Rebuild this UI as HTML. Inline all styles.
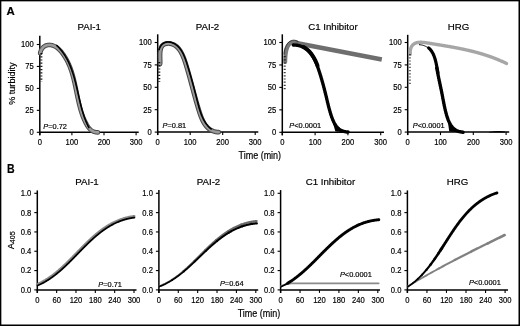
<!DOCTYPE html>
<html><head><meta charset="utf-8"><style>
html,body{margin:0;padding:0;background:#fff;}
#f{position:relative;width:520px;height:326px;overflow:hidden;background:#fff;}
svg{position:absolute;left:0;top:0;will-change:transform;filter:blur(0.3px);}
text{font-family:"Liberation Sans", sans-serif;stroke:#000;stroke-width:0.18px;}
</style></head><body><div id="f">
<svg width="520" height="326" viewBox="0 0 520 326" font-family='"Liberation Sans", sans-serif'>
<rect x="0" y="0" width="520" height="326" fill="#fff"/>
<line x1="39.80" y1="35.70" x2="39.80" y2="135.30" stroke="#000" stroke-width="1.5"/>
<line x1="39.15" y1="132.30" x2="138.70" y2="132.30" stroke="#000" stroke-width="1.5"/>
<line x1="36.80" y1="132.30" x2="39.80" y2="132.30" stroke="#000" stroke-width="1.1"/>
<text transform="translate(33.80,135.20) scale(0.93,1)" font-size="8.2" text-anchor="end" font-weight="normal" font-style="normal" fill="#000" >0</text>
<line x1="36.80" y1="110.35" x2="39.80" y2="110.35" stroke="#000" stroke-width="1.1"/>
<text transform="translate(33.80,113.25) scale(0.93,1)" font-size="8.2" text-anchor="end" font-weight="normal" font-style="normal" fill="#000" >25</text>
<line x1="36.80" y1="88.40" x2="39.80" y2="88.40" stroke="#000" stroke-width="1.1"/>
<text transform="translate(33.80,91.30) scale(0.93,1)" font-size="8.2" text-anchor="end" font-weight="normal" font-style="normal" fill="#000" >50</text>
<line x1="36.80" y1="66.45" x2="39.80" y2="66.45" stroke="#000" stroke-width="1.1"/>
<text transform="translate(33.80,69.35) scale(0.93,1)" font-size="8.2" text-anchor="end" font-weight="normal" font-style="normal" fill="#000" >75</text>
<line x1="36.80" y1="44.50" x2="39.80" y2="44.50" stroke="#000" stroke-width="1.1"/>
<text transform="translate(33.80,47.40) scale(0.93,1)" font-size="8.2" text-anchor="end" font-weight="normal" font-style="normal" fill="#000" >100</text>
<line x1="39.80" y1="132.30" x2="39.80" y2="135.30" stroke="#000" stroke-width="1.1"/>
<text transform="translate(39.80,145.20) scale(0.93,1)" font-size="8.2" text-anchor="middle" font-weight="normal" font-style="normal" fill="#000" >0</text>
<line x1="71.90" y1="132.30" x2="71.90" y2="135.30" stroke="#000" stroke-width="1.1"/>
<text transform="translate(71.90,145.20) scale(0.93,1)" font-size="8.2" text-anchor="middle" font-weight="normal" font-style="normal" fill="#000" >100</text>
<line x1="104.00" y1="132.30" x2="104.00" y2="135.30" stroke="#000" stroke-width="1.1"/>
<text transform="translate(104.00,145.20) scale(0.93,1)" font-size="8.2" text-anchor="middle" font-weight="normal" font-style="normal" fill="#000" >200</text>
<line x1="136.10" y1="132.30" x2="136.10" y2="135.30" stroke="#000" stroke-width="1.1"/>
<text transform="translate(136.10,145.20) scale(0.93,1)" font-size="8.2" text-anchor="middle" font-weight="normal" font-style="normal" fill="#000" >300</text>
<text transform="translate(89.20,30.40) scale(1.0,1)" font-size="9.7" text-anchor="middle" font-weight="normal" font-style="normal" fill="#000" >PAI-1</text>
<line x1="157.70" y1="34.30" x2="157.70" y2="135.10" stroke="#000" stroke-width="1.5"/>
<line x1="157.05" y1="132.10" x2="258.30" y2="132.10" stroke="#000" stroke-width="1.5"/>
<line x1="154.70" y1="132.10" x2="157.70" y2="132.10" stroke="#000" stroke-width="1.1"/>
<text transform="translate(151.70,135.00) scale(0.93,1)" font-size="8.2" text-anchor="end" font-weight="normal" font-style="normal" fill="#000" >0</text>
<line x1="154.70" y1="109.70" x2="157.70" y2="109.70" stroke="#000" stroke-width="1.1"/>
<text transform="translate(151.70,112.60) scale(0.93,1)" font-size="8.2" text-anchor="end" font-weight="normal" font-style="normal" fill="#000" >25</text>
<line x1="154.70" y1="87.30" x2="157.70" y2="87.30" stroke="#000" stroke-width="1.1"/>
<text transform="translate(151.70,90.20) scale(0.93,1)" font-size="8.2" text-anchor="end" font-weight="normal" font-style="normal" fill="#000" >50</text>
<line x1="154.70" y1="64.90" x2="157.70" y2="64.90" stroke="#000" stroke-width="1.1"/>
<text transform="translate(151.70,67.80) scale(0.93,1)" font-size="8.2" text-anchor="end" font-weight="normal" font-style="normal" fill="#000" >75</text>
<line x1="154.70" y1="42.50" x2="157.70" y2="42.50" stroke="#000" stroke-width="1.1"/>
<text transform="translate(151.70,45.40) scale(0.93,1)" font-size="8.2" text-anchor="end" font-weight="normal" font-style="normal" fill="#000" >100</text>
<line x1="157.70" y1="132.10" x2="157.70" y2="135.10" stroke="#000" stroke-width="1.1"/>
<text transform="translate(157.70,145.20) scale(0.93,1)" font-size="8.2" text-anchor="middle" font-weight="normal" font-style="normal" fill="#000" >0</text>
<line x1="190.20" y1="132.10" x2="190.20" y2="135.10" stroke="#000" stroke-width="1.1"/>
<text transform="translate(190.20,145.20) scale(0.93,1)" font-size="8.2" text-anchor="middle" font-weight="normal" font-style="normal" fill="#000" >100</text>
<line x1="222.70" y1="132.10" x2="222.70" y2="135.10" stroke="#000" stroke-width="1.1"/>
<text transform="translate(222.70,145.20) scale(0.93,1)" font-size="8.2" text-anchor="middle" font-weight="normal" font-style="normal" fill="#000" >200</text>
<line x1="255.20" y1="132.10" x2="255.20" y2="135.10" stroke="#000" stroke-width="1.1"/>
<text transform="translate(255.20,145.20) scale(0.93,1)" font-size="8.2" text-anchor="middle" font-weight="normal" font-style="normal" fill="#000" >300</text>
<text transform="translate(207.50,30.10) scale(1.0,1)" font-size="9.7" text-anchor="middle" font-weight="normal" font-style="normal" fill="#000" >PAI-2</text>
<line x1="282.30" y1="34.30" x2="282.30" y2="135.30" stroke="#000" stroke-width="1.5"/>
<line x1="281.65" y1="132.30" x2="384.00" y2="132.30" stroke="#000" stroke-width="1.5"/>
<line x1="279.30" y1="132.30" x2="282.30" y2="132.30" stroke="#000" stroke-width="1.1"/>
<text transform="translate(276.30,135.20) scale(0.93,1)" font-size="8.2" text-anchor="end" font-weight="normal" font-style="normal" fill="#000" >0</text>
<line x1="279.30" y1="109.85" x2="282.30" y2="109.85" stroke="#000" stroke-width="1.1"/>
<text transform="translate(276.30,112.75) scale(0.93,1)" font-size="8.2" text-anchor="end" font-weight="normal" font-style="normal" fill="#000" >25</text>
<line x1="279.30" y1="87.40" x2="282.30" y2="87.40" stroke="#000" stroke-width="1.1"/>
<text transform="translate(276.30,90.30) scale(0.93,1)" font-size="8.2" text-anchor="end" font-weight="normal" font-style="normal" fill="#000" >50</text>
<line x1="279.30" y1="64.95" x2="282.30" y2="64.95" stroke="#000" stroke-width="1.1"/>
<text transform="translate(276.30,67.85) scale(0.93,1)" font-size="8.2" text-anchor="end" font-weight="normal" font-style="normal" fill="#000" >75</text>
<line x1="279.30" y1="42.50" x2="282.30" y2="42.50" stroke="#000" stroke-width="1.1"/>
<text transform="translate(276.30,45.40) scale(0.93,1)" font-size="8.2" text-anchor="end" font-weight="normal" font-style="normal" fill="#000" >100</text>
<line x1="282.30" y1="132.30" x2="282.30" y2="135.30" stroke="#000" stroke-width="1.1"/>
<text transform="translate(282.30,145.20) scale(0.93,1)" font-size="8.2" text-anchor="middle" font-weight="normal" font-style="normal" fill="#000" >0</text>
<line x1="315.10" y1="132.30" x2="315.10" y2="135.30" stroke="#000" stroke-width="1.1"/>
<text transform="translate(315.10,145.20) scale(0.93,1)" font-size="8.2" text-anchor="middle" font-weight="normal" font-style="normal" fill="#000" >100</text>
<line x1="347.90" y1="132.30" x2="347.90" y2="135.30" stroke="#000" stroke-width="1.1"/>
<text transform="translate(347.90,145.20) scale(0.93,1)" font-size="8.2" text-anchor="middle" font-weight="normal" font-style="normal" fill="#000" >200</text>
<line x1="380.70" y1="132.30" x2="380.70" y2="135.30" stroke="#000" stroke-width="1.1"/>
<text transform="translate(380.70,145.20) scale(0.93,1)" font-size="8.2" text-anchor="middle" font-weight="normal" font-style="normal" fill="#000" >300</text>
<text transform="translate(332.90,30.20) scale(1.0,1)" font-size="9.7" text-anchor="middle" font-weight="normal" font-style="normal" fill="#000" >C1 Inhibitor</text>
<line x1="407.70" y1="34.80" x2="407.70" y2="135.10" stroke="#000" stroke-width="1.5"/>
<line x1="407.05" y1="132.10" x2="509.20" y2="132.10" stroke="#000" stroke-width="1.5"/>
<line x1="404.70" y1="132.10" x2="407.70" y2="132.10" stroke="#000" stroke-width="1.1"/>
<text transform="translate(401.70,135.00) scale(0.93,1)" font-size="8.2" text-anchor="end" font-weight="normal" font-style="normal" fill="#000" >0</text>
<line x1="404.70" y1="109.70" x2="407.70" y2="109.70" stroke="#000" stroke-width="1.1"/>
<text transform="translate(401.70,112.60) scale(0.93,1)" font-size="8.2" text-anchor="end" font-weight="normal" font-style="normal" fill="#000" >25</text>
<line x1="404.70" y1="87.30" x2="407.70" y2="87.30" stroke="#000" stroke-width="1.1"/>
<text transform="translate(401.70,90.20) scale(0.93,1)" font-size="8.2" text-anchor="end" font-weight="normal" font-style="normal" fill="#000" >50</text>
<line x1="404.70" y1="64.90" x2="407.70" y2="64.90" stroke="#000" stroke-width="1.1"/>
<text transform="translate(401.70,67.80) scale(0.93,1)" font-size="8.2" text-anchor="end" font-weight="normal" font-style="normal" fill="#000" >75</text>
<line x1="404.70" y1="42.50" x2="407.70" y2="42.50" stroke="#000" stroke-width="1.1"/>
<text transform="translate(401.70,45.40) scale(0.93,1)" font-size="8.2" text-anchor="end" font-weight="normal" font-style="normal" fill="#000" >100</text>
<line x1="407.70" y1="132.10" x2="407.70" y2="135.10" stroke="#000" stroke-width="1.1"/>
<text transform="translate(407.70,145.20) scale(0.93,1)" font-size="8.2" text-anchor="middle" font-weight="normal" font-style="normal" fill="#000" >0</text>
<line x1="440.50" y1="132.10" x2="440.50" y2="135.10" stroke="#000" stroke-width="1.1"/>
<text transform="translate(440.50,145.20) scale(0.93,1)" font-size="8.2" text-anchor="middle" font-weight="normal" font-style="normal" fill="#000" >100</text>
<line x1="473.30" y1="132.10" x2="473.30" y2="135.10" stroke="#000" stroke-width="1.1"/>
<text transform="translate(473.30,145.20) scale(0.93,1)" font-size="8.2" text-anchor="middle" font-weight="normal" font-style="normal" fill="#000" >200</text>
<line x1="506.10" y1="132.10" x2="506.10" y2="135.10" stroke="#000" stroke-width="1.1"/>
<text transform="translate(506.10,145.20) scale(0.93,1)" font-size="8.2" text-anchor="middle" font-weight="normal" font-style="normal" fill="#000" >300</text>
<text transform="translate(458.60,30.00) scale(1.0,1)" font-size="9.7" text-anchor="middle" font-weight="normal" font-style="normal" fill="#000" >HRG</text>
<line x1="37.30" y1="190.40" x2="37.30" y2="292.90" stroke="#000" stroke-width="1.5"/>
<line x1="36.65" y1="289.90" x2="136.50" y2="289.90" stroke="#000" stroke-width="1.5"/>
<line x1="34.30" y1="289.90" x2="37.30" y2="289.90" stroke="#000" stroke-width="1.1"/>
<text transform="translate(31.30,292.80) scale(0.93,1)" font-size="8.2" text-anchor="end" font-weight="normal" font-style="normal" fill="#000" >0.0</text>
<line x1="34.30" y1="270.58" x2="37.30" y2="270.58" stroke="#000" stroke-width="1.1"/>
<text transform="translate(31.30,273.48) scale(0.93,1)" font-size="8.2" text-anchor="end" font-weight="normal" font-style="normal" fill="#000" >0.2</text>
<line x1="34.30" y1="251.26" x2="37.30" y2="251.26" stroke="#000" stroke-width="1.1"/>
<text transform="translate(31.30,254.16) scale(0.93,1)" font-size="8.2" text-anchor="end" font-weight="normal" font-style="normal" fill="#000" >0.4</text>
<line x1="34.30" y1="231.94" x2="37.30" y2="231.94" stroke="#000" stroke-width="1.1"/>
<text transform="translate(31.30,234.84) scale(0.93,1)" font-size="8.2" text-anchor="end" font-weight="normal" font-style="normal" fill="#000" >0.6</text>
<line x1="34.30" y1="212.62" x2="37.30" y2="212.62" stroke="#000" stroke-width="1.1"/>
<text transform="translate(31.30,215.52) scale(0.93,1)" font-size="8.2" text-anchor="end" font-weight="normal" font-style="normal" fill="#000" >0.8</text>
<line x1="34.30" y1="193.30" x2="37.30" y2="193.30" stroke="#000" stroke-width="1.1"/>
<text transform="translate(31.30,196.20) scale(0.93,1)" font-size="8.2" text-anchor="end" font-weight="normal" font-style="normal" fill="#000" >1.0</text>
<line x1="37.30" y1="289.90" x2="37.30" y2="292.90" stroke="#000" stroke-width="1.1"/>
<text transform="translate(37.30,302.70) scale(0.93,1)" font-size="8.2" text-anchor="middle" font-weight="normal" font-style="normal" fill="#000" >0</text>
<line x1="56.64" y1="289.90" x2="56.64" y2="292.90" stroke="#000" stroke-width="1.1"/>
<text transform="translate(56.64,302.70) scale(0.93,1)" font-size="8.2" text-anchor="middle" font-weight="normal" font-style="normal" fill="#000" >60</text>
<line x1="75.98" y1="289.90" x2="75.98" y2="292.90" stroke="#000" stroke-width="1.1"/>
<text transform="translate(75.98,302.70) scale(0.93,1)" font-size="8.2" text-anchor="middle" font-weight="normal" font-style="normal" fill="#000" >120</text>
<line x1="95.32" y1="289.90" x2="95.32" y2="292.90" stroke="#000" stroke-width="1.1"/>
<text transform="translate(95.32,302.70) scale(0.93,1)" font-size="8.2" text-anchor="middle" font-weight="normal" font-style="normal" fill="#000" >180</text>
<line x1="114.66" y1="289.90" x2="114.66" y2="292.90" stroke="#000" stroke-width="1.1"/>
<text transform="translate(114.66,302.70) scale(0.93,1)" font-size="8.2" text-anchor="middle" font-weight="normal" font-style="normal" fill="#000" >240</text>
<line x1="134.00" y1="289.90" x2="134.00" y2="292.90" stroke="#000" stroke-width="1.1"/>
<text transform="translate(134.00,302.70) scale(0.93,1)" font-size="8.2" text-anchor="middle" font-weight="normal" font-style="normal" fill="#000" >300</text>
<text transform="translate(87.00,185.00) scale(1.0,1)" font-size="9.7" text-anchor="middle" font-weight="normal" font-style="normal" fill="#000" >PAI-1</text>
<line x1="158.90" y1="189.90" x2="158.90" y2="292.90" stroke="#000" stroke-width="1.5"/>
<line x1="158.25" y1="289.90" x2="258.20" y2="289.90" stroke="#000" stroke-width="1.5"/>
<line x1="155.90" y1="289.90" x2="158.90" y2="289.90" stroke="#000" stroke-width="1.1"/>
<text transform="translate(152.90,292.80) scale(0.93,1)" font-size="8.2" text-anchor="end" font-weight="normal" font-style="normal" fill="#000" >0.0</text>
<line x1="155.90" y1="270.58" x2="158.90" y2="270.58" stroke="#000" stroke-width="1.1"/>
<text transform="translate(152.90,273.48) scale(0.93,1)" font-size="8.2" text-anchor="end" font-weight="normal" font-style="normal" fill="#000" >0.2</text>
<line x1="155.90" y1="251.26" x2="158.90" y2="251.26" stroke="#000" stroke-width="1.1"/>
<text transform="translate(152.90,254.16) scale(0.93,1)" font-size="8.2" text-anchor="end" font-weight="normal" font-style="normal" fill="#000" >0.4</text>
<line x1="155.90" y1="231.94" x2="158.90" y2="231.94" stroke="#000" stroke-width="1.1"/>
<text transform="translate(152.90,234.84) scale(0.93,1)" font-size="8.2" text-anchor="end" font-weight="normal" font-style="normal" fill="#000" >0.6</text>
<line x1="155.90" y1="212.62" x2="158.90" y2="212.62" stroke="#000" stroke-width="1.1"/>
<text transform="translate(152.90,215.52) scale(0.93,1)" font-size="8.2" text-anchor="end" font-weight="normal" font-style="normal" fill="#000" >0.8</text>
<line x1="155.90" y1="193.30" x2="158.90" y2="193.30" stroke="#000" stroke-width="1.1"/>
<text transform="translate(152.90,196.20) scale(0.93,1)" font-size="8.2" text-anchor="end" font-weight="normal" font-style="normal" fill="#000" >1.0</text>
<line x1="158.90" y1="289.90" x2="158.90" y2="292.90" stroke="#000" stroke-width="1.1"/>
<text transform="translate(158.90,302.70) scale(0.93,1)" font-size="8.2" text-anchor="middle" font-weight="normal" font-style="normal" fill="#000" >0</text>
<line x1="178.28" y1="289.90" x2="178.28" y2="292.90" stroke="#000" stroke-width="1.1"/>
<text transform="translate(178.28,302.70) scale(0.93,1)" font-size="8.2" text-anchor="middle" font-weight="normal" font-style="normal" fill="#000" >60</text>
<line x1="197.66" y1="289.90" x2="197.66" y2="292.90" stroke="#000" stroke-width="1.1"/>
<text transform="translate(197.66,302.70) scale(0.93,1)" font-size="8.2" text-anchor="middle" font-weight="normal" font-style="normal" fill="#000" >120</text>
<line x1="217.04" y1="289.90" x2="217.04" y2="292.90" stroke="#000" stroke-width="1.1"/>
<text transform="translate(217.04,302.70) scale(0.93,1)" font-size="8.2" text-anchor="middle" font-weight="normal" font-style="normal" fill="#000" >180</text>
<line x1="236.42" y1="289.90" x2="236.42" y2="292.90" stroke="#000" stroke-width="1.1"/>
<text transform="translate(236.42,302.70) scale(0.93,1)" font-size="8.2" text-anchor="middle" font-weight="normal" font-style="normal" fill="#000" >240</text>
<line x1="255.80" y1="289.90" x2="255.80" y2="292.90" stroke="#000" stroke-width="1.1"/>
<text transform="translate(255.80,302.70) scale(0.93,1)" font-size="8.2" text-anchor="middle" font-weight="normal" font-style="normal" fill="#000" >300</text>
<text transform="translate(208.50,185.10) scale(1.0,1)" font-size="9.7" text-anchor="middle" font-weight="normal" font-style="normal" fill="#000" >PAI-2</text>
<line x1="280.60" y1="190.10" x2="280.60" y2="292.90" stroke="#000" stroke-width="1.5"/>
<line x1="279.95" y1="289.90" x2="380.00" y2="289.90" stroke="#000" stroke-width="1.5"/>
<line x1="277.60" y1="289.90" x2="280.60" y2="289.90" stroke="#000" stroke-width="1.1"/>
<text transform="translate(274.60,292.80) scale(0.93,1)" font-size="8.2" text-anchor="end" font-weight="normal" font-style="normal" fill="#000" >0.0</text>
<line x1="277.60" y1="270.58" x2="280.60" y2="270.58" stroke="#000" stroke-width="1.1"/>
<text transform="translate(274.60,273.48) scale(0.93,1)" font-size="8.2" text-anchor="end" font-weight="normal" font-style="normal" fill="#000" >0.2</text>
<line x1="277.60" y1="251.26" x2="280.60" y2="251.26" stroke="#000" stroke-width="1.1"/>
<text transform="translate(274.60,254.16) scale(0.93,1)" font-size="8.2" text-anchor="end" font-weight="normal" font-style="normal" fill="#000" >0.4</text>
<line x1="277.60" y1="231.94" x2="280.60" y2="231.94" stroke="#000" stroke-width="1.1"/>
<text transform="translate(274.60,234.84) scale(0.93,1)" font-size="8.2" text-anchor="end" font-weight="normal" font-style="normal" fill="#000" >0.6</text>
<line x1="277.60" y1="212.62" x2="280.60" y2="212.62" stroke="#000" stroke-width="1.1"/>
<text transform="translate(274.60,215.52) scale(0.93,1)" font-size="8.2" text-anchor="end" font-weight="normal" font-style="normal" fill="#000" >0.8</text>
<line x1="277.60" y1="193.30" x2="280.60" y2="193.30" stroke="#000" stroke-width="1.1"/>
<text transform="translate(274.60,196.20) scale(0.93,1)" font-size="8.2" text-anchor="end" font-weight="normal" font-style="normal" fill="#000" >1.0</text>
<line x1="280.60" y1="289.90" x2="280.60" y2="292.90" stroke="#000" stroke-width="1.1"/>
<text transform="translate(280.60,302.70) scale(0.93,1)" font-size="8.2" text-anchor="middle" font-weight="normal" font-style="normal" fill="#000" >0</text>
<line x1="300.04" y1="289.90" x2="300.04" y2="292.90" stroke="#000" stroke-width="1.1"/>
<text transform="translate(300.04,302.70) scale(0.93,1)" font-size="8.2" text-anchor="middle" font-weight="normal" font-style="normal" fill="#000" >60</text>
<line x1="319.48" y1="289.90" x2="319.48" y2="292.90" stroke="#000" stroke-width="1.1"/>
<text transform="translate(319.48,302.70) scale(0.93,1)" font-size="8.2" text-anchor="middle" font-weight="normal" font-style="normal" fill="#000" >120</text>
<line x1="338.92" y1="289.90" x2="338.92" y2="292.90" stroke="#000" stroke-width="1.1"/>
<text transform="translate(338.92,302.70) scale(0.93,1)" font-size="8.2" text-anchor="middle" font-weight="normal" font-style="normal" fill="#000" >180</text>
<line x1="358.36" y1="289.90" x2="358.36" y2="292.90" stroke="#000" stroke-width="1.1"/>
<text transform="translate(358.36,302.70) scale(0.93,1)" font-size="8.2" text-anchor="middle" font-weight="normal" font-style="normal" fill="#000" >240</text>
<line x1="377.80" y1="289.90" x2="377.80" y2="292.90" stroke="#000" stroke-width="1.1"/>
<text transform="translate(377.80,302.70) scale(0.93,1)" font-size="8.2" text-anchor="middle" font-weight="normal" font-style="normal" fill="#000" >300</text>
<text transform="translate(330.40,185.00) scale(1.0,1)" font-size="9.7" text-anchor="middle" font-weight="normal" font-style="normal" fill="#000" >C1 Inhibitor</text>
<line x1="407.40" y1="190.40" x2="407.40" y2="292.90" stroke="#000" stroke-width="1.5"/>
<line x1="406.75" y1="289.90" x2="508.00" y2="289.90" stroke="#000" stroke-width="1.5"/>
<line x1="404.40" y1="289.90" x2="407.40" y2="289.90" stroke="#000" stroke-width="1.1"/>
<text transform="translate(401.40,292.80) scale(0.93,1)" font-size="8.2" text-anchor="end" font-weight="normal" font-style="normal" fill="#000" >0.0</text>
<line x1="404.40" y1="270.58" x2="407.40" y2="270.58" stroke="#000" stroke-width="1.1"/>
<text transform="translate(401.40,273.48) scale(0.93,1)" font-size="8.2" text-anchor="end" font-weight="normal" font-style="normal" fill="#000" >0.2</text>
<line x1="404.40" y1="251.26" x2="407.40" y2="251.26" stroke="#000" stroke-width="1.1"/>
<text transform="translate(401.40,254.16) scale(0.93,1)" font-size="8.2" text-anchor="end" font-weight="normal" font-style="normal" fill="#000" >0.4</text>
<line x1="404.40" y1="231.94" x2="407.40" y2="231.94" stroke="#000" stroke-width="1.1"/>
<text transform="translate(401.40,234.84) scale(0.93,1)" font-size="8.2" text-anchor="end" font-weight="normal" font-style="normal" fill="#000" >0.6</text>
<line x1="404.40" y1="212.62" x2="407.40" y2="212.62" stroke="#000" stroke-width="1.1"/>
<text transform="translate(401.40,215.52) scale(0.93,1)" font-size="8.2" text-anchor="end" font-weight="normal" font-style="normal" fill="#000" >0.8</text>
<line x1="404.40" y1="193.30" x2="407.40" y2="193.30" stroke="#000" stroke-width="1.1"/>
<text transform="translate(401.40,196.20) scale(0.93,1)" font-size="8.2" text-anchor="end" font-weight="normal" font-style="normal" fill="#000" >1.0</text>
<line x1="407.40" y1="289.90" x2="407.40" y2="292.90" stroke="#000" stroke-width="1.1"/>
<text transform="translate(407.40,302.70) scale(0.93,1)" font-size="8.2" text-anchor="middle" font-weight="normal" font-style="normal" fill="#000" >0</text>
<line x1="426.94" y1="289.90" x2="426.94" y2="292.90" stroke="#000" stroke-width="1.1"/>
<text transform="translate(426.94,302.70) scale(0.93,1)" font-size="8.2" text-anchor="middle" font-weight="normal" font-style="normal" fill="#000" >60</text>
<line x1="446.48" y1="289.90" x2="446.48" y2="292.90" stroke="#000" stroke-width="1.1"/>
<text transform="translate(446.48,302.70) scale(0.93,1)" font-size="8.2" text-anchor="middle" font-weight="normal" font-style="normal" fill="#000" >120</text>
<line x1="466.02" y1="289.90" x2="466.02" y2="292.90" stroke="#000" stroke-width="1.1"/>
<text transform="translate(466.02,302.70) scale(0.93,1)" font-size="8.2" text-anchor="middle" font-weight="normal" font-style="normal" fill="#000" >180</text>
<line x1="485.56" y1="289.90" x2="485.56" y2="292.90" stroke="#000" stroke-width="1.1"/>
<text transform="translate(485.56,302.70) scale(0.93,1)" font-size="8.2" text-anchor="middle" font-weight="normal" font-style="normal" fill="#000" >240</text>
<line x1="505.10" y1="289.90" x2="505.10" y2="292.90" stroke="#000" stroke-width="1.1"/>
<text transform="translate(505.10,302.70) scale(0.93,1)" font-size="8.2" text-anchor="middle" font-weight="normal" font-style="normal" fill="#000" >300</text>
<text transform="translate(457.50,184.80) scale(1.0,1)" font-size="9.7" text-anchor="middle" font-weight="normal" font-style="normal" fill="#000" >HRG</text>
<text transform="translate(6.50,15.40) scale(1.0,1)" font-size="11.4" text-anchor="start" font-weight="bold" font-style="normal" fill="#000" >A</text>
<text transform="translate(7.00,172.80) scale(0.86,1)" font-size="12.3" text-anchor="start" font-weight="bold" font-style="normal" fill="#000" >B</text>
<text transform="translate(259.80,158.60) scale(0.9,1)" font-size="10.0" text-anchor="middle" font-weight="normal" font-style="normal" fill="#000" >Time (min)</text>
<text transform="translate(259.00,317.20) scale(0.9,1)" font-size="10.0" text-anchor="middle" font-weight="normal" font-style="normal" fill="#000" >Time (min)</text>
<text transform="translate(15.0,83.6) rotate(-90) scale(0.93,1)" font-size="9.8" text-anchor="middle">% turbidity</text>
<text transform="translate(13.7,249.3) rotate(-90)" font-size="9.2">A<tspan font-size="7.2" dy="1.4">405</tspan></text>
<text x="43.30" y="129.20" font-size="7.4"><tspan font-style="italic">P</tspan>=0.72</text>
<text x="162.60" y="127.80" font-size="7.4"><tspan font-style="italic">P</tspan>=0.81</text>
<text x="289.30" y="128.00" font-size="7.4"><tspan font-style="italic">P</tspan>&lt;0.0001</text>
<text x="412.80" y="127.80" font-size="7.4"><tspan font-style="italic">P</tspan>&lt;0.0001</text>
<text x="98.30" y="286.50" font-size="7.4"><tspan font-style="italic">P</tspan>=0.71</text>
<text x="219.90" y="286.40" font-size="7.4"><tspan font-style="italic">P</tspan>=0.64</text>
<text x="339.90" y="276.90" font-size="7.4"><tspan font-style="italic">P</tspan>&lt;0.0001</text>
<text x="468.90" y="284.90" font-size="7.4"><tspan font-style="italic">P</tspan>&lt;0.0001</text>
<path d="M40.09,53.26 L40.29,52.47 L40.52,51.72 L40.77,51.01 L41.06,50.35 L41.37,49.72 L41.70,49.14 L42.06,48.60 L42.44,48.11 L42.84,47.65 L43.27,47.22 L43.70,46.84 L44.16,46.49 L44.63,46.18 L45.12,45.91 L45.61,45.67 L46.12,45.47 L46.64,45.29 L47.17,45.16 L47.70,45.05 L48.24,44.97 L48.79,44.93 L49.34,44.92 L49.89,44.93 L50.44,44.98 L50.98,45.05 L51.53,45.15 L52.07,45.27 L52.61,45.42 L53.14,45.60 L53.66,45.80 L54.18,46.02 L54.69,46.27 L55.19,46.54 L55.69,46.83 L56.18,47.14 L56.66,47.46 L57.13,47.81 L57.60,48.17 L58.06,48.55 L58.51,48.95 L58.96,49.36 L59.40,49.78 L59.83,50.22 L60.25,50.67 L60.67,51.13 L61.08,51.60 L61.48,52.08 L61.88,52.57 L62.26,53.07 L62.64,53.57 L63.02,54.08 L63.38,54.60 L63.74,55.12 L64.10,55.64 L64.44,56.17 L64.78,56.70 L65.11,57.23 L65.43,57.76 L65.74,58.29 L66.05,58.82 L66.35,59.36 L66.65,59.89 L66.94,60.43 L67.22,60.97 L67.49,61.51 L67.76,62.05 L68.02,62.59 L68.28,63.13 L68.53,63.68 L68.78,64.22 L69.02,64.77 L69.26,65.32 L69.49,65.87 L69.71,66.42 L69.93,66.97 L70.15,67.53 L70.36,68.08 L70.56,68.64 L70.77,69.20 L70.96,69.76 L71.16,70.32 L71.35,70.88 L71.53,71.45 L71.71,72.02 L71.89,72.59 L72.07,73.16 L72.24,73.73 L72.41,74.30 L72.57,74.88 L72.74,75.46 L72.90,76.03 L73.05,76.61 L73.21,77.20 L73.36,77.78 L73.51,78.37 L73.66,78.95 L73.80,79.54 L73.95,80.13 L74.09,80.72 L74.23,81.31 L74.36,81.91 L74.50,82.50 L74.64,83.10 L74.77,83.69 L74.90,84.29 L75.03,84.89 L75.16,85.49 L75.29,86.09 L75.42,86.69 L75.54,87.29 L75.67,87.89 L75.79,88.49 L75.92,89.09 L76.04,89.70 L76.17,90.30 L76.29,90.90 L76.41,91.50 L76.54,92.11 L76.66,92.71 L76.78,93.31 L76.91,93.92 L77.03,94.52 L77.15,95.12 L77.28,95.73 L77.41,96.33 L77.53,96.93 L77.66,97.53 L77.79,98.13 L77.92,98.73 L78.05,99.33 L78.18,99.93 L78.31,100.53 L78.45,101.13 L78.58,101.72 L78.72,102.32 L78.86,102.92 L79.00,103.51 L79.14,104.10 L79.29,104.69 L79.44,105.28 L79.59,105.87 L79.74,106.46 L79.89,107.05 L80.05,107.63 L80.21,108.21 L80.37,108.80 L80.54,109.38 L80.71,109.95 L80.88,110.53 L81.05,111.11 L81.23,111.68 L81.41,112.25 L81.60,112.82 L81.78,113.38 L81.98,113.95 L82.17,114.51 L82.37,115.07 L82.57,115.63 L82.78,116.18 L82.99,116.74 L83.21,117.29 L83.43,117.84 L83.65,118.38 L83.88,118.92 L84.12,119.46 L84.35,120.00 L84.60,120.54 L84.85,121.07 L85.10,121.59 L85.36,122.12 L85.62,122.64 L85.89,123.16 L86.17,123.68 L86.45,124.19 L86.73,124.70 L87.03,125.20 L87.33,125.70 L87.64,126.19 L87.96,126.67 L88.29,127.14 L88.63,127.60 L88.98,128.05 L89.35,128.48 L89.74,128.90 L90.14,129.30 L90.55,129.68 L90.99,130.04 L91.44,130.39 L91.91,130.71 L92.40,131.00 L92.92,131.28 L93.46,131.52 L94.02,131.74 L94.60,131.93 L95.21,132.09 L95.85,132.22 L96.52,132.32 L97.21,132.38 L97.94,132.41" fill="none" stroke="#4a4a4a" stroke-width="4.6" stroke-linecap="round" stroke-linejoin="round" />
<path d="M40.09,53.26 L40.29,52.47 L40.52,51.72 L40.77,51.01 L41.06,50.35 L41.37,49.72 L41.70,49.14 L42.06,48.60 L42.44,48.11 L42.84,47.65 L43.27,47.22 L43.70,46.84 L44.16,46.49 L44.63,46.18 L45.12,45.91 L45.61,45.67 L46.12,45.47 L46.64,45.29 L47.17,45.16 L47.70,45.05 L48.24,44.97 L48.79,44.93 L49.34,44.92 L49.89,44.93 L50.44,44.98 L50.98,45.05 L51.53,45.15 L52.07,45.27 L52.61,45.42 L53.14,45.60 L53.66,45.80 L54.18,46.02 L54.69,46.27 L55.19,46.54 L55.69,46.83 L56.18,47.14 L56.66,47.46 L57.13,47.81 L57.60,48.17 L58.06,48.55 L58.51,48.95 L58.96,49.36 L59.40,49.78 L59.83,50.22 L60.25,50.67 L60.67,51.13 L61.08,51.60 L61.48,52.08 L61.88,52.57 L62.26,53.07 L62.64,53.57 L63.02,54.08 L63.38,54.60 L63.74,55.12 L64.10,55.64 L64.44,56.17 L64.78,56.70 L65.11,57.23 L65.43,57.76 L65.74,58.29 L66.05,58.82 L66.35,59.36 L66.65,59.89 L66.94,60.43 L67.22,60.97 L67.49,61.51 L67.76,62.05 L68.02,62.59 L68.28,63.13 L68.53,63.68 L68.78,64.22 L69.02,64.77 L69.26,65.32 L69.49,65.87 L69.71,66.42 L69.93,66.97 L70.15,67.53 L70.36,68.08 L70.56,68.64 L70.77,69.20 L70.96,69.76 L71.16,70.32 L71.35,70.88 L71.53,71.45 L71.71,72.02 L71.89,72.59 L72.07,73.16 L72.24,73.73 L72.41,74.30 L72.57,74.88 L72.74,75.46 L72.90,76.03 L73.05,76.61 L73.21,77.20 L73.36,77.78 L73.51,78.37 L73.66,78.95 L73.80,79.54 L73.95,80.13 L74.09,80.72 L74.23,81.31 L74.36,81.91 L74.50,82.50 L74.64,83.10 L74.77,83.69 L74.90,84.29 L75.03,84.89 L75.16,85.49 L75.29,86.09 L75.42,86.69 L75.54,87.29 L75.67,87.89 L75.79,88.49 L75.92,89.09 L76.04,89.70 L76.17,90.30 L76.29,90.90 L76.41,91.50 L76.54,92.11 L76.66,92.71 L76.78,93.31 L76.91,93.92 L77.03,94.52 L77.15,95.12 L77.28,95.73 L77.41,96.33 L77.53,96.93 L77.66,97.53 L77.79,98.13 L77.92,98.73 L78.05,99.33 L78.18,99.93 L78.31,100.53 L78.45,101.13 L78.58,101.72 L78.72,102.32 L78.86,102.92 L79.00,103.51 L79.14,104.10 L79.29,104.69 L79.44,105.28 L79.59,105.87 L79.74,106.46 L79.89,107.05 L80.05,107.63 L80.21,108.21 L80.37,108.80 L80.54,109.38 L80.71,109.95 L80.88,110.53 L81.05,111.11 L81.23,111.68 L81.41,112.25 L81.60,112.82 L81.78,113.38 L81.98,113.95 L82.17,114.51 L82.37,115.07 L82.57,115.63 L82.78,116.18 L82.99,116.74 L83.21,117.29 L83.43,117.84 L83.65,118.38 L83.88,118.92 L84.12,119.46 L84.35,120.00 L84.60,120.54 L84.85,121.07 L85.10,121.59 L85.36,122.12 L85.62,122.64 L85.89,123.16 L86.17,123.68 L86.45,124.19 L86.73,124.70 L87.03,125.20 L87.33,125.70 L87.64,126.19 L87.96,126.67 L88.29,127.14 L88.63,127.60 L88.98,128.05 L89.35,128.48 L89.74,128.90 L90.14,129.30 L90.55,129.68 L90.99,130.04 L91.44,130.39 L91.91,130.71 L92.40,131.00 L92.92,131.28 L93.46,131.52 L94.02,131.74 L94.60,131.93 L95.21,132.09 L95.85,132.22 L96.52,132.32 L97.21,132.38 L97.94,132.41" fill="none" stroke="#9c9c9c" stroke-width="2.6" stroke-linecap="round" stroke-linejoin="round" />
<line x1="41.4" y1="53" x2="41.4" y2="82" stroke="#000" stroke-width="2.0" stroke-dasharray="1.2 2.0" stroke-opacity="0.9"/>
<path d="M56.90,45.57 L57.24,45.89 L57.57,46.23 L57.90,46.56 L58.22,46.90 L58.54,47.24 L58.86,47.58 L59.17,47.93 L59.48,48.27 L59.79,48.62 L60.09,48.97 L60.39,49.32 L60.68,49.67 L60.97,50.03 L61.26,50.38 L61.54,50.74 L61.82,51.10 L62.10,51.46 L62.37,51.83 L62.64,52.19 L62.91,52.56 L63.17,52.93 L63.43,53.30 L63.69,53.67 L63.94,54.04 L64.19,54.42 L64.44,54.79 L64.69,55.17 L64.93,55.55 L65.16,55.93 L65.40,56.31 L65.63,56.70 L65.86,57.08 L66.08,57.47 L66.31,57.86 L66.53,58.25 L66.74,58.64 L66.96,59.03 L67.17,59.42 L67.38,59.82 L67.59,60.21 L67.79,60.61 L67.99,61.01 L68.19,61.41 L68.38,61.81 L68.58,62.21 L68.77,62.62 L68.95,63.02 L69.14,63.43 L69.32,63.83 L69.50,64.24 L69.68,64.65 L69.86,65.06 L70.03,65.47 L70.20,65.88 L70.37,66.30 L70.54,66.71 L70.71,67.13 L70.87,67.54 L71.03,67.96 L71.19,68.38 L71.35,68.80 L71.50,69.21 L71.66,69.64 L71.81,70.06 L71.96,70.48 L72.10,70.90 L72.25,71.33 L72.39,71.75 L72.54,72.18 L72.68,72.60 L72.82,73.03 L72.95,73.46 L73.09,73.88 L73.22,74.31 L73.36,74.74 L73.49,75.17 L73.62,75.60 L73.75,76.04 L73.87,76.47 L74.00,76.90 L74.12,77.33 L74.25,77.77 L74.37,78.20 L74.49,78.64 L74.61,79.07 L74.73,79.51 L74.84,79.94 L74.96,80.38 L75.08,80.82 L75.19,81.25 L75.30,81.69 L75.41,82.13 L75.53,82.57 L75.64,83.01 L75.75,83.45 L75.85,83.89 L75.96,84.33 L76.07,84.77 L76.18,85.21 L76.28,85.65 L76.39,86.09 L76.49,86.53 L76.60,86.97 L76.70,87.41 L76.80,87.85 L76.90,88.30 L77.01,88.74 L77.11,89.18 L77.21,89.62 L77.31,90.06 L77.41,90.50 L77.51,90.95 L77.61,91.39 L77.71,91.83 L77.81,92.27 L77.91,92.72 L78.01,93.16 L78.11,93.60 L78.21,94.04 L78.31,94.48 L78.41,94.92 L78.51,95.37 L78.61,95.81 L78.71,96.25 L78.81,96.69 L78.91,97.13 L79.01,97.57 L79.11,98.01 L79.21,98.45 L79.31,98.89 L79.41,99.33 L79.51,99.77 L79.61,100.21 L79.72,100.65 L79.82,101.09 L79.92,101.52 L80.03,101.96 L80.13,102.40 L80.24,102.83 L80.34,103.27 L80.45,103.71 L80.56,104.14 L80.66,104.58 L80.77,105.01 L80.88,105.44 L80.99,105.88 L81.11,106.31 L81.22,106.74 L81.33,107.17 L81.44,107.60 L81.56,108.03 L81.68,108.46 L81.79,108.89 L81.91,109.32 L82.03,109.75 L82.15,110.17 L82.27,110.60 L82.40,111.02 L82.52,111.45 L82.65,111.87 L82.77,112.29 L82.90,112.72 L83.03,113.14 L83.16,113.56 L83.30,113.98 L83.43,114.40 L83.56,114.81 L83.70,115.23 L83.84,115.65 L83.98,116.06 L84.12,116.47 L84.27,116.89 L84.41,117.30 L84.56,117.71 L84.71,118.12 L84.86,118.53 L85.01,118.94 L85.16,119.34 L85.32,119.75 L85.48,120.15 L85.64,120.56 L85.80,120.96 L85.96,121.36 L86.13,121.76 L86.30,122.16 L86.47,122.55 L86.64,122.95 L86.82,123.34 L86.99,123.74 L87.17,124.13 L87.35,124.52 L87.54,124.91 L87.72,125.30 L87.91,125.69 L88.10,126.07 L88.29,126.45 L88.49,126.84 L88.69,127.22 L88.89,127.60" fill="none" stroke="#111" stroke-width="0.6" stroke-linecap="round" stroke-linejoin="round" />
<path d="M56.90,45.57 L57.24,45.89 L57.57,46.23 L57.90,46.56 L58.22,46.90 L58.54,47.24 L58.86,47.58 L59.17,47.93 L59.48,48.27 L59.79,48.62 L60.09,48.97 L60.39,49.32 L60.68,49.67 L60.97,50.03 L61.26,50.38 L61.54,50.74 L61.82,51.10 L62.10,51.46 L62.37,51.83 L62.64,52.19 L62.91,52.56 L63.17,52.93 L63.43,53.30 L63.69,53.67 L63.94,54.04 L64.19,54.42 L64.44,54.79 L64.69,55.17 L64.93,55.55 L65.16,55.93 L65.40,56.31 L65.63,56.70 L65.86,57.08 L66.08,57.47 L66.31,57.86 L66.53,58.25 L66.74,58.64 L66.96,59.03 L67.17,59.42 L67.38,59.82 L67.59,60.21 L67.79,60.61 L67.99,61.01 L68.19,61.41 L68.38,61.81 L68.58,62.21 L68.77,62.62 L68.95,63.02 L69.14,63.43 L69.32,63.83 L69.50,64.24 L69.68,64.65 L69.86,65.06 L70.03,65.47 L70.20,65.88 L70.37,66.30 L70.54,66.71 L70.71,67.13 L70.87,67.54 L71.03,67.96 L71.19,68.38 L71.35,68.80 L71.50,69.21 L71.66,69.64 L71.81,70.06 L71.96,70.48 L72.10,70.90 L72.25,71.33 L72.39,71.75 L72.54,72.18 L72.68,72.60 L72.82,73.03 L72.95,73.46 L73.09,73.88 L73.22,74.31 L73.36,74.74 L73.49,75.17 L73.62,75.60 L73.75,76.04 L73.87,76.47 L74.00,76.90 L74.12,77.33 L74.25,77.77 L74.37,78.20 L74.49,78.64 L74.61,79.07 L74.73,79.51 L74.84,79.94 L74.96,80.38 L75.08,80.82 L75.19,81.25 L75.30,81.69 L75.41,82.13 L75.53,82.57 L75.64,83.01 L75.75,83.45 L75.85,83.89 L75.96,84.33 L76.07,84.77 L76.18,85.21 L76.28,85.65 L76.39,86.09 L76.49,86.53 L76.60,86.97 L76.70,87.41 L76.80,87.85 L76.90,88.30 L77.01,88.74 L77.11,89.18 L77.21,89.62 L77.31,90.06 L77.41,90.50 L77.51,90.95 L77.61,91.39 L77.71,91.83 L77.81,92.27 L77.91,92.72 L78.01,93.16 L78.11,93.60 L78.21,94.04 L78.31,94.48 L78.41,94.92 L78.51,95.37 L78.61,95.81 L78.71,96.25 L78.81,96.69 L78.91,97.13 L79.01,97.57 L79.11,98.01 L79.21,98.45 L79.31,98.89 L79.41,99.33 L79.51,99.77 L79.61,100.21 L79.72,100.65 L79.82,101.09 L79.92,101.52 L80.03,101.96 L80.13,102.40 L80.24,102.83 L80.34,103.27 L80.45,103.71 L80.56,104.14 L80.66,104.58 L80.77,105.01 L80.88,105.44 L80.99,105.88 L81.11,106.31 L81.22,106.74 L81.33,107.17 L81.44,107.60 L81.56,108.03 L81.68,108.46 L81.79,108.89 L81.91,109.32 L82.03,109.75 L82.15,110.17 L82.27,110.60 L82.40,111.02 L82.52,111.45 L82.65,111.87 L82.77,112.29 L82.90,112.72 L83.03,113.14 L83.16,113.56 L83.30,113.98 L83.43,114.40 L83.56,114.81 L83.70,115.23 L83.84,115.65 L83.98,116.06 L84.12,116.47 L84.27,116.89 L84.41,117.30 L84.56,117.71 L84.71,118.12 L84.86,118.53 L85.01,118.94 L85.16,119.34 L85.32,119.75 L85.48,120.15 L85.64,120.56 L85.80,120.96 L85.96,121.36 L86.13,121.76 L86.30,122.16 L86.47,122.55 L86.64,122.95 L86.82,123.34 L86.99,123.74 L87.17,124.13 L87.35,124.52 L87.54,124.91 L87.72,125.30 L87.91,125.69 L88.10,126.07 L88.29,126.45 L88.49,126.84 L88.69,127.22 L88.89,127.60" fill="none" stroke="#000" stroke-width="1.6" stroke-linecap="round" stroke-linejoin="round" stroke-dasharray="0.9 0.8" stroke-linecap="butt"/>
<path d="M160.00,64.01 L160.05,63.56 L160.09,63.06 L160.11,62.51 L160.11,61.91 L160.11,61.28 L160.10,60.61 L160.08,59.92 L160.06,59.19 L160.03,58.44 L160.01,57.68 L160.00,56.90 L159.99,56.11 L159.99,55.31 L160.00,54.51 L160.02,53.70 L160.06,52.91 L160.13,52.12 L160.21,51.35 L160.32,50.59 L160.45,49.86 L160.61,49.14 L160.81,48.46 L161.04,47.81 L161.30,47.20 L161.61,46.63 L161.95,46.10 L162.35,45.62 L162.78,45.20 L163.26,44.82 L163.78,44.50 L164.33,44.22 L164.91,43.99 L165.52,43.80 L166.14,43.65 L166.78,43.55 L167.44,43.49 L168.09,43.46 L168.75,43.47 L169.41,43.52 L170.06,43.59 L170.69,43.70 L171.31,43.84 L171.92,44.00 L172.50,44.20 L173.07,44.42 L173.63,44.66 L174.17,44.93 L174.69,45.23 L175.20,45.55 L175.70,45.89 L176.18,46.26 L176.65,46.64 L177.10,47.05 L177.54,47.48 L177.97,47.93 L178.39,48.39 L178.79,48.88 L179.18,49.38 L179.56,49.90 L179.93,50.43 L180.29,50.98 L180.64,51.54 L180.98,52.12 L181.31,52.71 L181.63,53.31 L181.94,53.92 L182.25,54.54 L182.54,55.18 L182.83,55.82 L183.11,56.47 L183.38,57.13 L183.64,57.80 L183.90,58.47 L184.16,59.14 L184.40,59.83 L184.64,60.51 L184.88,61.20 L185.11,61.89 L185.34,62.58 L185.56,63.28 L185.78,63.97 L185.99,64.67 L186.20,65.36 L186.41,66.05 L186.62,66.74 L186.82,67.42 L187.03,68.11 L187.23,68.79 L187.42,69.46 L187.62,70.13 L187.81,70.81 L188.01,71.47 L188.20,72.14 L188.39,72.80 L188.58,73.46 L188.76,74.12 L188.95,74.78 L189.13,75.43 L189.31,76.08 L189.49,76.73 L189.67,77.38 L189.85,78.02 L190.03,78.67 L190.20,79.31 L190.38,79.95 L190.55,80.59 L190.73,81.23 L190.90,81.87 L191.07,82.50 L191.24,83.14 L191.42,83.77 L191.59,84.40 L191.76,85.04 L191.93,85.67 L192.10,86.30 L192.27,86.93 L192.43,87.56 L192.60,88.19 L192.77,88.82 L192.94,89.44 L193.11,90.07 L193.28,90.70 L193.45,91.33 L193.62,91.96 L193.79,92.59 L193.96,93.22 L194.13,93.85 L194.31,94.48 L194.48,95.11 L194.65,95.74 L194.83,96.37 L195.00,97.00 L195.18,97.63 L195.35,98.27 L195.53,98.90 L195.71,99.54 L195.89,100.18 L196.07,100.82 L196.26,101.46 L196.44,102.10 L196.63,102.74 L196.81,103.39 L197.00,104.04 L197.19,104.69 L197.38,105.34 L197.58,105.99 L197.77,106.65 L197.97,107.30 L198.17,107.96 L198.37,108.62 L198.58,109.29 L198.78,109.96 L198.99,110.62 L199.20,111.30 L199.41,111.97 L199.63,112.64 L199.85,113.31 L200.08,113.98 L200.31,114.65 L200.55,115.32 L200.79,115.98 L201.04,116.64 L201.30,117.30 L201.56,117.95 L201.83,118.59 L202.11,119.23 L202.39,119.86 L202.69,120.49 L203.00,121.10 L203.31,121.70 L203.64,122.30 L203.97,122.88 L204.32,123.46 L204.68,124.02 L205.05,124.57 L205.43,125.10 L205.83,125.62 L206.24,126.13 L206.66,126.62 L207.10,127.09 L207.55,127.55 L208.01,127.99 L208.50,128.41 L208.99,128.82 L209.51,129.20 L210.04,129.56 L210.59,129.91 L211.16,130.23 L211.74,130.52 L212.34,130.80 L212.96,131.05 L213.61,131.28 L214.27,131.48 L214.95,131.66 L215.65,131.81 L216.38,131.93 L217.12,132.03 L217.89,132.09 L218.68,132.13" fill="none" stroke="#454545" stroke-width="4.8" stroke-linecap="round" stroke-linejoin="round" />
<path d="M160.00,64.01 L160.05,63.56 L160.09,63.06 L160.11,62.51 L160.11,61.91 L160.11,61.28 L160.10,60.61 L160.08,59.92 L160.06,59.19 L160.03,58.44 L160.01,57.68 L160.00,56.90 L159.99,56.11 L159.99,55.31 L160.00,54.51 L160.02,53.70 L160.06,52.91 L160.13,52.12 L160.21,51.35 L160.32,50.59 L160.45,49.86 L160.61,49.14 L160.81,48.46 L161.04,47.81 L161.30,47.20 L161.61,46.63 L161.95,46.10 L162.35,45.62 L162.78,45.20 L163.26,44.82 L163.78,44.50 L164.33,44.22 L164.91,43.99 L165.52,43.80 L166.14,43.65 L166.78,43.55 L167.44,43.49 L168.09,43.46 L168.75,43.47 L169.41,43.52 L170.06,43.59 L170.69,43.70 L171.31,43.84 L171.92,44.00 L172.50,44.20 L173.07,44.42 L173.63,44.66 L174.17,44.93 L174.69,45.23 L175.20,45.55 L175.70,45.89 L176.18,46.26 L176.65,46.64 L177.10,47.05 L177.54,47.48 L177.97,47.93 L178.39,48.39 L178.79,48.88 L179.18,49.38 L179.56,49.90 L179.93,50.43 L180.29,50.98 L180.64,51.54 L180.98,52.12 L181.31,52.71 L181.63,53.31 L181.94,53.92 L182.25,54.54 L182.54,55.18 L182.83,55.82 L183.11,56.47 L183.38,57.13 L183.64,57.80 L183.90,58.47 L184.16,59.14 L184.40,59.83 L184.64,60.51 L184.88,61.20 L185.11,61.89 L185.34,62.58 L185.56,63.28 L185.78,63.97 L185.99,64.67 L186.20,65.36 L186.41,66.05 L186.62,66.74 L186.82,67.42 L187.03,68.11 L187.23,68.79 L187.42,69.46 L187.62,70.13 L187.81,70.81 L188.01,71.47 L188.20,72.14 L188.39,72.80 L188.58,73.46 L188.76,74.12 L188.95,74.78 L189.13,75.43 L189.31,76.08 L189.49,76.73 L189.67,77.38 L189.85,78.02 L190.03,78.67 L190.20,79.31 L190.38,79.95 L190.55,80.59 L190.73,81.23 L190.90,81.87 L191.07,82.50 L191.24,83.14 L191.42,83.77 L191.59,84.40 L191.76,85.04 L191.93,85.67 L192.10,86.30 L192.27,86.93 L192.43,87.56 L192.60,88.19 L192.77,88.82 L192.94,89.44 L193.11,90.07 L193.28,90.70 L193.45,91.33 L193.62,91.96 L193.79,92.59 L193.96,93.22 L194.13,93.85 L194.31,94.48 L194.48,95.11 L194.65,95.74 L194.83,96.37 L195.00,97.00 L195.18,97.63 L195.35,98.27 L195.53,98.90 L195.71,99.54 L195.89,100.18 L196.07,100.82 L196.26,101.46 L196.44,102.10 L196.63,102.74 L196.81,103.39 L197.00,104.04 L197.19,104.69 L197.38,105.34 L197.58,105.99 L197.77,106.65 L197.97,107.30 L198.17,107.96 L198.37,108.62 L198.58,109.29 L198.78,109.96 L198.99,110.62 L199.20,111.30 L199.41,111.97 L199.63,112.64 L199.85,113.31 L200.08,113.98 L200.31,114.65 L200.55,115.32 L200.79,115.98 L201.04,116.64 L201.30,117.30 L201.56,117.95 L201.83,118.59 L202.11,119.23 L202.39,119.86 L202.69,120.49 L203.00,121.10 L203.31,121.70 L203.64,122.30 L203.97,122.88 L204.32,123.46 L204.68,124.02 L205.05,124.57 L205.43,125.10 L205.83,125.62 L206.24,126.13 L206.66,126.62 L207.10,127.09 L207.55,127.55 L208.01,127.99 L208.50,128.41 L208.99,128.82 L209.51,129.20 L210.04,129.56 L210.59,129.91 L211.16,130.23 L211.74,130.52 L212.34,130.80 L212.96,131.05 L213.61,131.28 L214.27,131.48 L214.95,131.66 L215.65,131.81 L216.38,131.93 L217.12,132.03 L217.89,132.09 L218.68,132.13" fill="none" stroke="#9a9a9a" stroke-width="2.8" stroke-linecap="round" stroke-linejoin="round" />
<line x1="159.3" y1="62" x2="159.3" y2="82" stroke="#000" stroke-width="2.0" stroke-dasharray="1.2 2.0" stroke-opacity="0.9"/>
<path d="M159.11,49.56 L159.36,48.80 L159.65,48.05 L159.96,47.36 L160.31,46.70 L160.68,46.09 L161.07,45.53 L161.49,45.00 L161.94,44.52 L162.41,44.09 L162.89,43.70 L163.40,43.35 L163.92,43.04 L164.45,42.78 L165.00,42.55 L165.56,42.37 L166.12,42.23 L166.69,42.12 L167.26,42.06 L167.83,42.02 L168.40,42.02 L168.97,42.05 L169.54,42.11 L170.11,42.19 L170.67,42.31 L171.23,42.45 L171.78,42.61 L172.32,42.80 L172.85,43.00 L173.38,43.23 L173.89,43.48 L174.40,43.74 L174.89,44.02 L175.37,44.32 L175.83,44.64 L176.29,44.97 L176.73,45.31 L177.16,45.67 L177.58,46.04 L177.99,46.43 L178.39,46.82 L178.77,47.23 L179.15,47.65 L179.51,48.08 L179.87,48.53 L180.21,48.98 L180.55,49.44 L180.88,49.91 L181.20,50.39 L181.51,50.88 L181.81,51.38 L182.10,51.88 L182.39,52.40 L182.66,52.91 L182.93,53.44 L183.20,53.97 L183.46,54.51 L183.71,55.05 L183.95,55.59 L184.19,56.14 L184.42,56.70 L184.65,57.26 L184.88,57.82 L185.09,58.39 L185.31,58.95 L185.52,59.52 L185.72,60.09 L185.92,60.67 L186.12,61.24 L186.31,61.82 L186.50,62.39 L186.69,62.96 L186.88,63.54 L187.06,64.11 L187.24,64.68 L187.42,65.25 L187.59,65.82 L187.77,66.39 L187.94,66.95 L188.11,67.51 L188.28,68.07 L188.45,68.63 L188.62,69.19 L188.79,69.74 L188.95,70.29 L189.12,70.84 L189.28,71.39 L189.44,71.94 L189.60,72.48 L189.76,73.03 L189.92,73.57 L190.08,74.11 L190.24,74.65 L190.39,75.19 L190.55,75.72 L190.70,76.26 L190.85,76.80 L191.01,77.33 L191.16,77.86 L191.31,78.40 L191.46,78.93 L191.61,79.46 L191.76,79.99 L191.91,80.52 L192.05,81.05 L192.20,81.58 L192.35,82.11 L192.49,82.63 L192.64,83.16 L192.78,83.69 L192.92,84.22 L193.07,84.74 L193.21,85.27 L193.35,85.80 L193.49,86.33 L193.64,86.85 L193.78,87.38 L193.92,87.91 L194.06,88.44 L194.20,88.97 L194.34,89.49 L194.48,90.02 L194.62,90.55 L194.76,91.08 L194.89,91.62 L195.03,92.15 L195.17,92.68 L195.31,93.21 L195.45,93.75 L195.59,94.29 L195.73,94.82 L195.86,95.36 L196.00,95.90 L196.14,96.44 L196.28,96.98 L196.42,97.52 L196.56,98.07 L196.70,98.62 L196.83,99.16 L196.97,99.71 L197.11,100.26 L197.25,100.81 L197.39,101.37 L197.53,101.92 L197.68,102.47 L197.82,103.03 L197.96,103.58 L198.11,104.14 L198.25,104.69 L198.40,105.25 L198.55,105.80 L198.70,106.35 L198.86,106.91 L199.01,107.46 L199.17,108.01 L199.33,108.56 L199.49,109.10 L199.66,109.65 L199.83,110.19 L200.00,110.74 L200.18,111.28 L200.36,111.82 L200.54,112.35 L200.73,112.88 L200.92,113.42 L201.11,113.94 L201.31,114.47 L201.51,114.99 L201.72,115.51 L201.93,116.02 L202.15,116.53 L202.37,117.04 L202.60,117.54 L202.83,118.04 L203.06,118.53 L203.31,119.02 L203.55,119.50 L203.81,119.98 L204.07,120.46 L204.33,120.93 L204.60,121.39 L204.88,121.85 L205.17,122.30 L205.46,122.75 L205.76,123.19 L206.06,123.62 L206.37,124.05 L206.69,124.47 L207.02,124.89 L207.35,125.30 L207.69,125.70 L208.04,126.09 L208.40,126.48 L208.76,126.86 L209.14,127.24 L209.52,127.60 L209.91,127.96 L210.31,128.31 L210.71,128.66 L211.14,129.00" fill="none" stroke="#111" stroke-width="0.6" stroke-linecap="round" stroke-linejoin="round" />
<path d="M159.11,49.56 L159.36,48.80 L159.65,48.05 L159.96,47.36 L160.31,46.70 L160.68,46.09 L161.07,45.53 L161.49,45.00 L161.94,44.52 L162.41,44.09 L162.89,43.70 L163.40,43.35 L163.92,43.04 L164.45,42.78 L165.00,42.55 L165.56,42.37 L166.12,42.23 L166.69,42.12 L167.26,42.06 L167.83,42.02 L168.40,42.02 L168.97,42.05 L169.54,42.11 L170.11,42.19 L170.67,42.31 L171.23,42.45 L171.78,42.61 L172.32,42.80 L172.85,43.00 L173.38,43.23 L173.89,43.48 L174.40,43.74 L174.89,44.02 L175.37,44.32 L175.83,44.64 L176.29,44.97 L176.73,45.31 L177.16,45.67 L177.58,46.04 L177.99,46.43 L178.39,46.82 L178.77,47.23 L179.15,47.65 L179.51,48.08 L179.87,48.53 L180.21,48.98 L180.55,49.44 L180.88,49.91 L181.20,50.39 L181.51,50.88 L181.81,51.38 L182.10,51.88 L182.39,52.40 L182.66,52.91 L182.93,53.44 L183.20,53.97 L183.46,54.51 L183.71,55.05 L183.95,55.59 L184.19,56.14 L184.42,56.70 L184.65,57.26 L184.88,57.82 L185.09,58.39 L185.31,58.95 L185.52,59.52 L185.72,60.09 L185.92,60.67 L186.12,61.24 L186.31,61.82 L186.50,62.39 L186.69,62.96 L186.88,63.54 L187.06,64.11 L187.24,64.68 L187.42,65.25 L187.59,65.82 L187.77,66.39 L187.94,66.95 L188.11,67.51 L188.28,68.07 L188.45,68.63 L188.62,69.19 L188.79,69.74 L188.95,70.29 L189.12,70.84 L189.28,71.39 L189.44,71.94 L189.60,72.48 L189.76,73.03 L189.92,73.57 L190.08,74.11 L190.24,74.65 L190.39,75.19 L190.55,75.72 L190.70,76.26 L190.85,76.80 L191.01,77.33 L191.16,77.86 L191.31,78.40 L191.46,78.93 L191.61,79.46 L191.76,79.99 L191.91,80.52 L192.05,81.05 L192.20,81.58 L192.35,82.11 L192.49,82.63 L192.64,83.16 L192.78,83.69 L192.92,84.22 L193.07,84.74 L193.21,85.27 L193.35,85.80 L193.49,86.33 L193.64,86.85 L193.78,87.38 L193.92,87.91 L194.06,88.44 L194.20,88.97 L194.34,89.49 L194.48,90.02 L194.62,90.55 L194.76,91.08 L194.89,91.62 L195.03,92.15 L195.17,92.68 L195.31,93.21 L195.45,93.75 L195.59,94.29 L195.73,94.82 L195.86,95.36 L196.00,95.90 L196.14,96.44 L196.28,96.98 L196.42,97.52 L196.56,98.07 L196.70,98.62 L196.83,99.16 L196.97,99.71 L197.11,100.26 L197.25,100.81 L197.39,101.37 L197.53,101.92 L197.68,102.47 L197.82,103.03 L197.96,103.58 L198.11,104.14 L198.25,104.69 L198.40,105.25 L198.55,105.80 L198.70,106.35 L198.86,106.91 L199.01,107.46 L199.17,108.01 L199.33,108.56 L199.49,109.10 L199.66,109.65 L199.83,110.19 L200.00,110.74 L200.18,111.28 L200.36,111.82 L200.54,112.35 L200.73,112.88 L200.92,113.42 L201.11,113.94 L201.31,114.47 L201.51,114.99 L201.72,115.51 L201.93,116.02 L202.15,116.53 L202.37,117.04 L202.60,117.54 L202.83,118.04 L203.06,118.53 L203.31,119.02 L203.55,119.50 L203.81,119.98 L204.07,120.46 L204.33,120.93 L204.60,121.39 L204.88,121.85 L205.17,122.30 L205.46,122.75 L205.76,123.19 L206.06,123.62 L206.37,124.05 L206.69,124.47 L207.02,124.89 L207.35,125.30 L207.69,125.70 L208.04,126.09 L208.40,126.48 L208.76,126.86 L209.14,127.24 L209.52,127.60 L209.91,127.96 L210.31,128.31 L210.71,128.66 L211.14,129.00" fill="none" stroke="#000" stroke-width="1.6" stroke-linecap="round" stroke-linejoin="round" stroke-dasharray="0.9 0.8" stroke-linecap="butt"/>
<path d="M285.23,61.96 L285.23,61.86 L285.23,61.76 L285.23,61.65 L285.23,61.55 L285.23,61.44 L285.24,61.33 L285.24,61.23 L285.24,61.12 L285.24,61.00 L285.24,60.89 L285.25,60.78 L285.25,60.66 L285.25,60.54 L285.25,60.42 L285.26,60.30 L285.26,60.18 L285.26,60.06 L285.27,59.94 L285.27,59.82 L285.27,59.69 L285.28,59.56 L285.28,59.44 L285.29,59.31 L285.29,59.18 L285.30,59.05 L285.30,58.92 L285.31,58.79 L285.32,58.65 L285.32,58.52 L285.33,58.38 L285.33,58.25 L285.34,58.11 L285.35,57.97 L285.36,57.84 L285.37,57.70 L285.37,57.56 L285.38,57.42 L285.39,57.28 L285.40,57.14 L285.41,56.99 L285.42,56.85 L285.43,56.71 L285.44,56.56 L285.46,56.42 L285.47,56.28 L285.48,56.13 L285.49,55.98 L285.51,55.84 L285.52,55.69 L285.53,55.55 L285.55,55.40 L285.56,55.25 L285.58,55.10 L285.60,54.95 L285.61,54.81 L285.63,54.66 L285.65,54.51 L285.67,54.36 L285.68,54.21 L285.70,54.06 L285.72,53.91 L285.74,53.76 L285.76,53.61 L285.79,53.46 L285.81,53.31 L285.83,53.16 L285.85,53.01 L285.88,52.86 L285.90,52.71 L285.93,52.57 L285.95,52.42 L285.98,52.27 L286.00,52.12 L286.03,51.97 L286.06,51.82 L286.09,51.67 L286.12,51.52 L286.15,51.38 L286.18,51.23 L286.21,51.08 L286.24,50.94 L286.28,50.79 L286.31,50.64 L286.34,50.50 L286.38,50.35 L286.41,50.21 L286.45,50.06 L286.49,49.92 L286.53,49.78 L286.57,49.64 L286.61,49.49 L286.65,49.35 L286.69,49.21 L286.73,49.07 L286.77,48.93 L286.82,48.79 L286.86,48.66 L286.90,48.52 L286.95,48.38 L287.00,48.25 L287.05,48.11 L287.09,47.98 L287.14,47.85 L287.19,47.72 L287.25,47.58 L287.30,47.45 L287.35,47.33 L287.41,47.20 L287.46,47.07 L287.52,46.94 L287.57,46.82 L287.63,46.70 L287.69,46.57 L287.75,46.45 L287.81,46.33 L287.87,46.21 L287.93,46.09 L288.00,45.98 L288.06,45.86 L288.13,45.75 L288.19,45.64 L288.26,45.52 L288.33,45.41 L288.40,45.31 L288.47,45.20 L288.54,45.09 L288.62,44.99 L288.69,44.89 L288.76,44.78 L288.84,44.68 L288.92,44.59 L289.00,44.49 L289.07,44.39 L289.16,44.30 L289.24,44.21 L289.32,44.12 L289.40,44.03 L289.49,43.94 L289.57,43.86 L289.66,43.77 L289.75,43.69 L289.84,43.61 L289.93,43.54 L290.02,43.46 L290.12,43.39 L290.21,43.31 L290.31,43.24 L290.40,43.17 L290.50,43.11 L290.60,43.04 L290.70,42.98 L290.80,42.92 L290.91,42.86 L291.01,42.81 L291.12,42.75 L291.22,42.70 L291.33,42.65 L291.44,42.60 L291.55,42.56 L291.66,42.52 L291.78,42.48 L291.89,42.44 L292.01,42.40 L292.13,42.37 L292.25,42.34 L292.37,42.31 L292.49,42.28 L292.61,42.26 L292.74,42.23 L292.86,42.22 L292.99,42.20 L293.12,42.18 L293.25,42.17 L293.38,42.16 L293.51,42.16 L293.65,42.15 L293.78,42.15 L293.92,42.15 L294.06,42.16 L294.20,42.16 L294.34,42.17 L294.48,42.19 L294.63,42.20 L294.77,42.22 L294.92,42.24 L295.07,42.26 L295.22,42.29 L295.37,42.32 L295.53,42.35 L295.68,42.39 L295.84,42.43 L296.00,42.47 L296.16,42.51 L296.32,42.56 L296.49,42.61 L296.65,42.66 L296.82,42.72 L296.98,42.78 L297.15,42.84" fill="none" stroke="#777" stroke-width="4.0" stroke-linecap="round" stroke-linejoin="round" />
<line x1="295" y1="42.8" x2="381.8" y2="59.4" stroke="#6e6e6e" stroke-width="4.6"/>
<path d="M284.03,54.00 L284.03,53.91 L284.03,53.81 L284.04,53.71 L284.04,53.61 L284.04,53.51 L284.05,53.41 L284.05,53.31 L284.06,53.21 L284.06,53.11 L284.07,53.00 L284.07,52.90 L284.08,52.80 L284.09,52.70 L284.10,52.59 L284.11,52.49 L284.12,52.39 L284.13,52.28 L284.14,52.18 L284.15,52.08 L284.17,51.97 L284.18,51.87 L284.19,51.76 L284.21,51.66 L284.22,51.55 L284.24,51.45 L284.26,51.34 L284.27,51.24 L284.29,51.13 L284.31,51.02 L284.33,50.92 L284.35,50.81 L284.37,50.70 L284.39,50.60 L284.41,50.49 L284.43,50.38 L284.46,50.28 L284.48,50.17 L284.50,50.06 L284.53,49.96 L284.55,49.85 L284.58,49.74 L284.61,49.64 L284.63,49.53 L284.66,49.42 L284.69,49.31 L284.72,49.21 L284.75,49.10 L284.78,48.99 L284.81,48.89 L284.84,48.78 L284.88,48.67 L284.91,48.56 L284.94,48.46 L284.98,48.35 L285.01,48.24 L285.05,48.14 L285.08,48.03 L285.12,47.93 L285.16,47.82 L285.20,47.71 L285.24,47.61 L285.28,47.50 L285.32,47.40 L285.36,47.29 L285.40,47.19 L285.44,47.08 L285.48,46.98 L285.53,46.88 L285.57,46.77 L285.62,46.67 L285.66,46.57 L285.71,46.46 L285.75,46.36 L285.80,46.26 L285.85,46.16 L285.90,46.05 L285.95,45.95 L286.00,45.85 L286.05,45.75 L286.10,45.65 L286.16,45.55 L286.21,45.45 L286.26,45.35 L286.32,45.25 L286.37,45.16 L286.43,45.06 L286.49,44.96 L286.54,44.86 L286.60,44.77 L286.66,44.67 L286.72,44.58 L286.78,44.48 L286.84,44.39 L286.91,44.30 L286.97,44.20 L287.03,44.11 L287.10,44.02 L287.16,43.93 L287.23,43.84 L287.30,43.75 L287.36,43.66 L287.43,43.57 L287.50,43.48 L287.57,43.39 L287.64,43.31 L287.72,43.22 L287.79,43.14 L287.86,43.05 L287.94,42.97 L288.01,42.89 L288.09,42.80 L288.17,42.72 L288.24,42.64 L288.32,42.56 L288.40,42.48 L288.48,42.41 L288.57,42.33 L288.65,42.25 L288.73,42.18 L288.82,42.10 L288.90,42.03 L288.99,41.96 L289.08,41.89 L289.17,41.82 L289.26,41.75 L289.35,41.68 L289.44,41.62 L289.53,41.55 L289.62,41.49 L289.72,41.42 L289.81,41.36 L289.91,41.30 L290.01,41.24 L290.10,41.19 L290.20,41.13 L290.30,41.07 L290.41,41.02 L290.51,40.97 L290.61,40.92 L290.72,40.87 L290.82,40.82 L290.93,40.78 L291.03,40.73 L291.14,40.69 L291.25,40.65 L291.36,40.61 L291.47,40.57 L291.58,40.53 L291.70,40.50 L291.81,40.47 L291.92,40.44 L292.04,40.41 L292.15,40.38 L292.27,40.36 L292.39,40.33 L292.51,40.31 L292.62,40.29 L292.74,40.28 L292.86,40.26 L292.98,40.25 L293.10,40.24 L293.23,40.23 L293.35,40.22 L293.47,40.22 L293.59,40.21 L293.72,40.21 L293.84,40.21 L293.97,40.22 L294.09,40.22 L294.21,40.23 L294.34,40.24 L294.47,40.25 L294.59,40.26 L294.72,40.28 L294.84,40.30 L294.97,40.32 L295.10,40.34 L295.23,40.37 L295.35,40.39 L295.48,40.42 L295.61,40.45 L295.74,40.49 L295.86,40.52 L295.99,40.56 L296.12,40.60 L296.25,40.64 L296.38,40.68 L296.51,40.73 L296.64,40.78 L296.76,40.82 L296.89,40.88 L297.02,40.93 L297.15,40.99 L297.28,41.04 L297.41,41.10 L297.54,41.17 L297.67,41.23 L297.80,41.30 L297.92,41.36" fill="none" stroke="#000" stroke-width="0.8" stroke-linecap="round" stroke-linejoin="round" />
<line x1="284.7" y1="56" x2="284.7" y2="90" stroke="#000" stroke-width="2.0" stroke-dasharray="1.2 2.0" stroke-opacity="0.75"/>
<path d="M293.30,45.02 L293.95,45.03 L294.59,45.05 L295.22,45.09 L295.84,45.15 L296.44,45.22 L297.04,45.30 L297.63,45.40 L298.20,45.52 L298.77,45.64 L299.33,45.79 L299.87,45.94 L300.41,46.11 L300.93,46.29 L301.45,46.48 L301.96,46.69 L302.46,46.91 L302.94,47.14 L303.42,47.38 L303.89,47.64 L304.36,47.90 L304.81,48.18 L305.25,48.47 L305.69,48.77 L306.12,49.08 L306.54,49.39 L306.95,49.72 L307.35,50.06 L307.75,50.41 L308.13,50.77" fill="none" stroke="#000" stroke-width="1.6" stroke-linecap="round" stroke-linejoin="round" />
<path d="M303.61,47.03 L304.09,47.29 L304.56,47.56 L305.02,47.84 L305.47,48.13 L305.92,48.44 L306.35,48.75 L306.78,49.08 L307.20,49.42 L307.61,49.76 L308.01,50.12 L308.41,50.48 L308.80,50.85 L309.17,51.24 L309.55,51.63 L309.91,52.03 L310.27,52.44 L310.61,52.85 L310.96,53.28 L311.29,53.71 L311.62,54.15 L311.94,54.59 L312.26,55.04 L312.57,55.50 L312.87,55.97 L313.17,56.44 L313.46,56.91 L313.74,57.40 L314.02,57.88 L314.29,58.38 L314.56,58.87 L314.83,59.38 L315.08,59.88 L315.34,60.40 L315.58,60.91 L315.83,61.43 L316.07,61.95 L316.30,62.48 L316.53,63.01 L316.76,63.54 L316.98,64.07 L317.19,64.61 L317.41,65.15 L317.62,65.69" fill="none" stroke="#000" stroke-width="3.8" stroke-linecap="round" stroke-linejoin="round" />
<path d="M314.73,60.06 L314.98,60.57 L315.22,61.08 L315.46,61.60 L315.70,62.12 L315.93,62.64 L316.16,63.16 L316.39,63.69 L316.61,64.22 L316.82,64.76 L317.04,65.30 L317.24,65.83 L317.45,66.37 L317.65,66.92 L317.85,67.46 L318.05,68.00 L318.24,68.55 L318.43,69.10 L318.62,69.64 L318.80,70.19 L318.98,70.74 L319.16,71.28 L319.34,71.83 L319.52,72.38 L319.69,72.92 L319.86,73.47 L320.03,74.01 L320.20,74.55 L320.37,75.09 L320.53,75.63 L320.70,76.16 L320.86,76.70 L321.02,77.24 L321.18,77.77 L321.34,78.30 L321.50,78.83 L321.65,79.36 L321.81,79.89 L321.96,80.42 L322.11,80.95 L322.26,81.48 L322.41,82.01 L322.56,82.53 L322.71,83.06 L322.85,83.59 L323.00,84.11 L323.14,84.64 L323.29,85.16 L323.43,85.69 L323.57,86.21 L323.71,86.74 L323.85,87.26 L323.99,87.79 L324.13,88.32 L324.26,88.84 L324.40,89.37 L324.54,89.89 L324.67,90.42 L324.81,90.95 L324.94,91.48 L325.07,92.01 L325.21,92.54 L325.34,93.07 L325.47,93.60 L325.60,94.13 L325.74,94.66 L325.87,95.20 L326.00,95.73 L326.13,96.27 L326.26,96.81 L326.39,97.35 L326.52,97.89 L326.65,98.43 L326.77,98.98 L326.90,99.52 L327.03,100.07 L327.16,100.61 L327.29,101.16 L327.42,101.71 L327.56,102.26 L327.69,102.81 L327.82,103.36 L327.95,103.91 L328.09,104.47 L328.22,105.02 L328.36,105.57 L328.50,106.12 L328.64,106.68 L328.78,107.23 L328.93,107.78 L329.07,108.34 L329.22,108.89 L329.37,109.44 L329.52,109.99 L329.67,110.55 L329.83,111.10 L329.99,111.65 L330.15,112.20 L330.31,112.74 L330.48,113.29 L330.65,113.84 L330.82,114.38 L331.00,114.93 L331.18,115.47 L331.36,116.01 L331.55,116.55 L331.74,117.09 L331.93,117.63 L332.13,118.16 L332.33,118.69 L332.54,119.22 L332.75,119.74 L332.97,120.26 L333.19,120.77 L333.43,121.28 L333.66,121.78 L333.91,122.28 L334.16,122.77 L334.42,123.25 L334.69,123.72 L334.96,124.19 L335.25,124.65 L335.54,125.09 L335.84,125.53 L336.15,125.96 L336.48,126.38 L336.81,126.79 L337.15,127.18 L337.51,127.57 L337.87,127.94 L338.25,128.29 L338.64,128.64 L339.04,128.97 L339.45,129.29 L339.88,129.59 L340.32,129.87 L340.77,130.15 L341.24,130.40 L341.72,130.64 L342.22,130.86 L342.73,131.06 L343.25,131.25 L343.80,131.42 L344.35,131.56 L344.93,131.69 L345.52,131.80 L346.12,131.89 L346.75,131.96 L347.39,132.00 L348.05,132.03" fill="none" stroke="#000" stroke-width="2.0" stroke-linecap="round" stroke-linejoin="round" />
<path d="M293.30,45.02 L293.95,45.03 L294.59,45.05 L295.22,45.09 L295.84,45.15 L296.44,45.22 L297.04,45.30 L297.63,45.40 L298.20,45.52 L298.77,45.64 L299.33,45.79 L299.87,45.94 L300.41,46.11 L300.93,46.29 L301.45,46.48 L301.96,46.69 L302.46,46.91 L302.94,47.14 L303.42,47.38 L303.89,47.64 L304.36,47.90 L304.81,48.18 L305.25,48.47 L305.69,48.77 L306.12,49.08 L306.54,49.39 L306.95,49.72 L307.35,50.06 L307.75,50.41 L308.13,50.77 L308.51,51.14 L308.89,51.52 L309.25,51.90 L309.61,52.29 L309.96,52.70 L310.31,53.11 L310.64,53.52 L310.97,53.95 L311.30,54.38 L311.62,54.82 L311.93,55.27 L312.23,55.72 L312.53,56.18 L312.83,56.65 L313.11,57.12 L313.40,57.60 L313.67,58.08 L313.94,58.57 L314.21,59.06 L314.47,59.56 L314.73,60.06 L314.98,60.57 L315.22,61.08 L315.46,61.60 L315.70,62.12 L315.93,62.64 L316.16,63.16 L316.39,63.69 L316.61,64.22 L316.82,64.76 L317.04,65.30 L317.24,65.83 L317.45,66.37 L317.65,66.92 L317.85,67.46 L318.05,68.00 L318.24,68.55 L318.43,69.10 L318.62,69.64 L318.80,70.19 L318.98,70.74 L319.16,71.28 L319.34,71.83 L319.52,72.38 L319.69,72.92 L319.86,73.47 L320.03,74.01 L320.20,74.55 L320.37,75.09 L320.53,75.63 L320.70,76.16 L320.86,76.70 L321.02,77.24 L321.18,77.77 L321.34,78.30 L321.50,78.83 L321.65,79.36 L321.81,79.89 L321.96,80.42 L322.11,80.95 L322.26,81.48 L322.41,82.01 L322.56,82.53 L322.71,83.06 L322.85,83.59 L323.00,84.11 L323.14,84.64 L323.29,85.16 L323.43,85.69 L323.57,86.21 L323.71,86.74 L323.85,87.26 L323.99,87.79 L324.13,88.32 L324.26,88.84 L324.40,89.37 L324.54,89.89 L324.67,90.42 L324.81,90.95 L324.94,91.48 L325.07,92.01 L325.21,92.54 L325.34,93.07 L325.47,93.60 L325.60,94.13 L325.74,94.66 L325.87,95.20 L326.00,95.73 L326.13,96.27 L326.26,96.81 L326.39,97.35 L326.52,97.89 L326.65,98.43 L326.77,98.98 L326.90,99.52 L327.03,100.07 L327.16,100.61 L327.29,101.16 L327.42,101.71 L327.56,102.26 L327.69,102.81 L327.82,103.36 L327.95,103.91 L328.09,104.47 L328.22,105.02 L328.36,105.57 L328.50,106.12 L328.64,106.68 L328.78,107.23 L328.93,107.78 L329.07,108.34 L329.22,108.89 L329.37,109.44 L329.52,109.99 L329.67,110.55 L329.83,111.10 L329.99,111.65 L330.15,112.20 L330.31,112.74 L330.48,113.29 L330.65,113.84 L330.82,114.38 L331.00,114.93 L331.18,115.47 L331.36,116.01 L331.55,116.55 L331.74,117.09 L331.93,117.63 L332.13,118.16 L332.33,118.69 L332.54,119.22 L332.75,119.74 L332.97,120.26 L333.19,120.77 L333.43,121.28 L333.66,121.78 L333.91,122.28 L334.16,122.77 L334.42,123.25 L334.69,123.72 L334.96,124.19 L335.25,124.65 L335.54,125.09 L335.84,125.53 L336.15,125.96 L336.48,126.38 L336.81,126.79 L337.15,127.18 L337.51,127.57 L337.87,127.94 L338.25,128.29 L338.64,128.64 L339.04,128.97 L339.45,129.29 L339.88,129.59 L340.32,129.87 L340.77,130.15 L341.24,130.40 L341.72,130.64 L342.22,130.86 L342.73,131.06 L343.25,131.25 L343.80,131.42 L344.35,131.56 L344.93,131.69 L345.52,131.80 L346.12,131.89 L346.75,131.96 L347.39,132.00 L348.05,132.03" fill="none" stroke="#000" stroke-width="3.4" stroke-linecap="round" stroke-linejoin="round" stroke-dasharray="0.7 1.0" stroke-linecap="butt"/>
<path d="M410.22,54.29 L410.17,53.52 L410.15,52.77 L410.16,52.05 L410.20,51.37 L410.26,50.71 L410.35,50.08 L410.47,49.48 L410.61,48.91 L410.77,48.36 L410.95,47.84 L411.16,47.35 L411.39,46.89 L411.63,46.45 L411.90,46.03 L412.19,45.64 L412.49,45.28 L412.81,44.94 L413.14,44.62 L413.49,44.32 L413.86,44.05 L414.24,43.80 L414.63,43.57 L415.04,43.37 L415.45,43.18 L415.88,43.02 L416.31,42.87 L416.76,42.74 L417.22,42.63 L417.68,42.54 L418.16,42.46 L418.64,42.40 L419.13,42.36 L419.63,42.32 L420.13,42.31 L420.65,42.30 L421.16,42.31 L421.69,42.32 L422.22,42.35 L422.75,42.39 L423.29,42.43 L423.83,42.48 L424.38,42.54 L424.92,42.61 L425.48,42.68 L426.03,42.76 L426.58,42.84 L427.14,42.93 L427.70,43.01 L428.26,43.10 L428.81,43.19 L429.37,43.28 L429.93,43.37 L430.48,43.46 L431.04,43.55 L431.59,43.64 L432.15,43.73 L432.70,43.82 L433.26,43.91 L433.81,44.00 L434.36,44.09 L434.91,44.18 L435.46,44.27 L436.01,44.36 L436.56,44.45 L437.11,44.53 L437.65,44.62 L438.20,44.71 L438.75,44.80 L439.29,44.89 L439.84,44.98 L440.38,45.07 L440.92,45.16 L441.47,45.25 L442.01,45.34 L442.55,45.43 L443.09,45.52 L443.63,45.61 L444.17,45.70 L444.71,45.79 L445.25,45.88 L445.79,45.97 L446.33,46.06 L446.87,46.15 L447.40,46.24 L447.94,46.34 L448.47,46.43 L449.01,46.52 L449.54,46.62 L450.08,46.71 L450.61,46.80 L451.14,46.90 L451.68,47.00 L452.21,47.09 L452.74,47.19 L453.27,47.28 L453.80,47.38 L454.33,47.48 L454.86,47.58 L455.39,47.68 L455.92,47.78 L456.44,47.88 L456.97,47.98 L457.50,48.08 L458.03,48.18 L458.55,48.28 L459.08,48.39 L459.60,48.49 L460.13,48.60 L460.65,48.70 L461.17,48.81 L461.70,48.92 L462.22,49.02 L462.74,49.13 L463.26,49.24 L463.79,49.35 L464.31,49.47 L464.83,49.58 L465.35,49.69 L465.87,49.81 L466.39,49.92 L466.91,50.04 L467.42,50.15 L467.94,50.27 L468.46,50.39 L468.98,50.51 L469.50,50.63 L470.01,50.76 L470.53,50.88 L471.05,51.00 L471.56,51.13 L472.08,51.26 L472.59,51.38 L473.11,51.51 L473.62,51.64 L474.13,51.77 L474.65,51.91 L475.16,52.04 L475.68,52.18 L476.19,52.31 L476.70,52.45 L477.21,52.59 L477.72,52.73 L478.24,52.87 L478.75,53.02 L479.26,53.16 L479.77,53.31 L480.28,53.45 L480.79,53.60 L481.30,53.75 L481.81,53.90 L482.32,54.06 L482.83,54.21 L483.34,54.37 L483.85,54.53 L484.35,54.69 L484.86,54.85 L485.37,55.01 L485.88,55.17 L486.39,55.34 L486.89,55.51 L487.40,55.67 L487.91,55.85 L488.41,56.02 L488.92,56.19 L489.43,56.37 L489.93,56.54 L490.44,56.72 L490.94,56.90 L491.45,57.09 L491.96,57.27 L492.46,57.46 L492.97,57.65 L493.47,57.84 L493.98,58.03 L494.48,58.22 L494.98,58.42 L495.49,58.62 L495.99,58.82 L496.50,59.02 L497.00,59.22 L497.51,59.43 L498.01,59.64 L498.51,59.85 L499.02,60.06 L499.52,60.27 L500.02,60.49 L500.53,60.70 L501.03,60.93 L501.53,61.15 L502.04,61.37 L502.54,61.60 L503.04,61.83 L503.54,62.06 L504.05,62.29 L504.55,62.53 L505.05,62.77 L505.55,63.01 L506.06,63.25 L506.56,63.49" fill="none" stroke="#a6a6a6" stroke-width="3.4" stroke-linecap="round" stroke-linejoin="round" />
<line x1="409.9" y1="54" x2="409.9" y2="84" stroke="#000" stroke-width="2.0" stroke-dasharray="1.2 2.0" stroke-opacity="0.6"/>
<path d="M419.39,44.69 L420.02,44.75 L420.64,44.83 L421.24,44.93 L421.82,45.04 L422.38,45.17 L422.94,45.31 L423.47,45.47 L423.99,45.64 L424.50,45.83 L424.99,46.03 L425.46,46.25 L425.92,46.48 L426.37,46.72 L426.81,46.98 L427.23,47.25 L427.63,47.53 L428.03,47.82 L428.41,48.13 L428.78,48.44 L429.14,48.77 L429.49,49.11 L429.82,49.46 L430.14,49.83 L430.46,50.20" fill="none" stroke="#000" stroke-width="1.0" stroke-linecap="round" stroke-linejoin="round" />
<path d="M428.61,47.90 L428.98,48.22 L429.35,48.56 L429.70,48.90 L430.04,49.26 L430.37,49.63 L430.69,50.01 L431.00,50.40 L431.29,50.80 L431.58,51.20 L431.86,51.62 L432.12,52.04 L432.38,52.48 L432.63,52.92 L432.87,53.37 L433.10,53.83 L433.32,54.29 L433.53,54.76 L433.74,55.24 L433.94,55.72 L434.13,56.21 L434.31,56.70 L434.49,57.20 L434.66,57.71 L434.82,58.22 L434.98,58.74 L435.13,59.25 L435.28,59.78 L435.42,60.30 L435.56,60.83 L435.69,61.37 L435.82,61.90 L435.95,62.44 L436.07,62.98 L436.19,63.52 L436.30,64.07 L436.42,64.61 L436.53,65.16 L436.63,65.71 L436.74,66.26 L436.84,66.80 L436.95,67.35 L437.05,67.90 L437.15,68.45 L437.25,68.99 L437.35,69.54 L437.45,70.08 L437.55,70.62 L437.65,71.16 L437.75,71.70 L437.85,72.23 L437.95,72.77" fill="none" stroke="#000" stroke-width="3.2" stroke-linecap="round" stroke-linejoin="round" />
<path d="M436.75,67.95 L436.85,68.50 L436.95,69.05 L437.05,69.59 L437.15,70.14 L437.25,70.68 L437.35,71.22 L437.45,71.75 L437.55,72.29 L437.66,72.82 L437.76,73.36 L437.86,73.89 L437.97,74.41 L438.07,74.94 L438.18,75.46 L438.28,75.99 L438.39,76.51 L438.49,77.03 L438.60,77.55 L438.71,78.07 L438.81,78.58 L438.92,79.10 L439.03,79.62 L439.14,80.13 L439.24,80.64 L439.35,81.15 L439.46,81.67 L439.57,82.18 L439.68,82.69 L439.79,83.20 L439.89,83.71 L440.00,84.22 L440.11,84.73 L440.22,85.23 L440.33,85.74 L440.44,86.25 L440.54,86.76 L440.65,87.27 L440.76,87.78 L440.87,88.29 L440.97,88.80 L441.08,89.31 L441.19,89.82 L441.29,90.33 L441.40,90.85 L441.50,91.36 L441.61,91.87 L441.71,92.39 L441.81,92.90 L441.92,93.42 L442.02,93.94 L442.12,94.46 L442.22,94.98 L442.32,95.50 L442.42,96.02 L442.52,96.55 L442.62,97.07 L442.72,97.60 L442.82,98.13 L442.92,98.65 L443.02,99.18 L443.12,99.71 L443.22,100.24 L443.32,100.77 L443.42,101.30 L443.53,101.83 L443.63,102.36 L443.73,102.89 L443.84,103.43 L443.94,103.96 L444.05,104.49 L444.16,105.02 L444.27,105.55 L444.38,106.08 L444.49,106.61 L444.60,107.15 L444.72,107.68 L444.84,108.21 L444.96,108.73 L445.08,109.26 L445.20,109.79 L445.33,110.32 L445.45,110.84 L445.59,111.37 L445.72,111.89 L445.85,112.42 L445.99,112.94 L446.13,113.46 L446.28,113.98 L446.42,114.50 L446.57,115.02 L446.73,115.53 L446.88,116.05 L447.04,116.56 L447.21,117.07 L447.38,117.58 L447.55,118.08 L447.72,118.58 L447.91,119.08 L448.09,119.58 L448.28,120.07 L448.48,120.56 L448.68,121.04 L448.89,121.52 L449.11,121.99 L449.33,122.46 L449.56,122.92 L449.80,123.37 L450.04,123.81 L450.30,124.25 L450.56,124.69 L450.83,125.11 L451.10,125.52 L451.39,125.93 L451.69,126.33 L452.00,126.71 L452.31,127.09 L452.64,127.46 L452.98,127.82 L453.33,128.16 L453.69,128.50 L454.06,128.82 L454.44,129.13 L454.84,129.43 L455.24,129.72 L455.66,129.99 L456.10,130.25 L456.54,130.50 L457.00,130.73 L457.48,130.95 L457.96,131.15 L458.47,131.34 L458.98,131.51 L459.51,131.66 L460.06,131.80 L460.62,131.93 L461.20,132.03 L461.80,132.12 L462.41,132.19 L463.03,132.24" fill="none" stroke="#000" stroke-width="2.0" stroke-linecap="round" stroke-linejoin="round" />
<path d="M436.75,67.95 L436.85,68.50 L436.95,69.05 L437.05,69.59 L437.15,70.14 L437.25,70.68 L437.35,71.22 L437.45,71.75 L437.55,72.29 L437.66,72.82 L437.76,73.36 L437.86,73.89 L437.97,74.41 L438.07,74.94 L438.18,75.46 L438.28,75.99 L438.39,76.51 L438.49,77.03 L438.60,77.55 L438.71,78.07 L438.81,78.58 L438.92,79.10 L439.03,79.62 L439.14,80.13 L439.24,80.64 L439.35,81.15 L439.46,81.67 L439.57,82.18 L439.68,82.69 L439.79,83.20 L439.89,83.71 L440.00,84.22 L440.11,84.73 L440.22,85.23 L440.33,85.74 L440.44,86.25 L440.54,86.76 L440.65,87.27 L440.76,87.78 L440.87,88.29 L440.97,88.80 L441.08,89.31 L441.19,89.82 L441.29,90.33 L441.40,90.85 L441.50,91.36 L441.61,91.87 L441.71,92.39 L441.81,92.90 L441.92,93.42 L442.02,93.94 L442.12,94.46 L442.22,94.98 L442.32,95.50 L442.42,96.02 L442.52,96.55 L442.62,97.07 L442.72,97.60 L442.82,98.13 L442.92,98.65 L443.02,99.18 L443.12,99.71 L443.22,100.24 L443.32,100.77 L443.42,101.30 L443.53,101.83 L443.63,102.36 L443.73,102.89 L443.84,103.43 L443.94,103.96 L444.05,104.49 L444.16,105.02 L444.27,105.55 L444.38,106.08 L444.49,106.61 L444.60,107.15 L444.72,107.68 L444.84,108.21 L444.96,108.73 L445.08,109.26 L445.20,109.79 L445.33,110.32 L445.45,110.84 L445.59,111.37 L445.72,111.89 L445.85,112.42 L445.99,112.94 L446.13,113.46 L446.28,113.98 L446.42,114.50 L446.57,115.02 L446.73,115.53 L446.88,116.05 L447.04,116.56 L447.21,117.07 L447.38,117.58 L447.55,118.08 L447.72,118.58 L447.91,119.08 L448.09,119.58 L448.28,120.07 L448.48,120.56 L448.68,121.04 L448.89,121.52 L449.11,121.99 L449.33,122.46 L449.56,122.92 L449.80,123.37 L450.04,123.81 L450.30,124.25 L450.56,124.69 L450.83,125.11 L451.10,125.52 L451.39,125.93 L451.69,126.33 L452.00,126.71 L452.31,127.09 L452.64,127.46 L452.98,127.82 L453.33,128.16 L453.69,128.50 L454.06,128.82 L454.44,129.13 L454.84,129.43 L455.24,129.72 L455.66,129.99 L456.10,130.25 L456.54,130.50 L457.00,130.73 L457.48,130.95 L457.96,131.15 L458.47,131.34 L458.98,131.51 L459.51,131.66 L460.06,131.80 L460.62,131.93 L461.20,132.03 L461.80,132.12 L462.41,132.19 L463.03,132.24" fill="none" stroke="#000" stroke-width="3.4" stroke-linecap="round" stroke-linejoin="round" stroke-dasharray="0.7 1.0" stroke-linecap="butt"/>
<path d="M489,132 Q497,130.6 505,131.4 L505,132.4 L489,132.4 Z" fill="#000"/>
<path d="M446.6,116 L448.2,124 L449.2,131.6 L458,132.2 L452.2,128.4 L449.6,123.2 Z" fill="#000"/>
<path d="M331.2,116 L333.2,124 L335.4,131.4 L346,132.2 L337.4,128.2 L334.2,123 Z" fill="#000"/>
<path d="M37.08,284.24 L37.62,284.01 L38.16,283.77 L38.70,283.52 L39.24,283.27 L39.77,283.02 L40.30,282.76 L40.83,282.49 L41.35,282.23 L41.88,281.96 L42.40,281.68 L42.91,281.40 L43.43,281.12 L43.94,280.83 L44.45,280.53 L44.96,280.24 L45.46,279.94 L45.96,279.63 L46.47,279.33 L46.96,279.01 L47.46,278.70 L47.95,278.38 L48.45,278.06 L48.94,277.73 L49.42,277.40 L49.91,277.07 L50.39,276.73 L50.88,276.39 L51.36,276.05 L51.83,275.70 L52.31,275.36 L52.78,275.00 L53.26,274.65 L53.73,274.29 L54.20,273.93 L54.66,273.56 L55.13,273.20 L55.60,272.83 L56.06,272.45 L56.52,272.08 L56.98,271.70 L57.44,271.32 L57.89,270.94 L58.35,270.55 L58.80,270.16 L59.26,269.77 L59.71,269.38 L60.16,268.99 L60.61,268.59 L61.05,268.19 L61.50,267.79 L61.94,267.39 L62.39,266.98 L62.83,266.57 L63.27,266.17 L63.72,265.75 L64.16,265.34 L64.59,264.93 L65.03,264.51 L65.47,264.10 L65.91,263.68 L66.34,263.26 L66.78,262.83 L67.21,262.41 L67.64,261.99 L68.08,261.56 L68.51,261.13 L68.94,260.71 L69.37,260.28 L69.80,259.85 L70.23,259.42 L70.66,258.99 L71.09,258.55 L71.52,258.12 L71.95,257.68 L72.38,257.25 L72.80,256.81 L73.23,256.38 L73.66,255.94 L74.09,255.50 L74.51,255.07 L74.94,254.63 L75.37,254.19 L75.79,253.75 L76.22,253.31 L76.65,252.87 L77.07,252.44 L77.50,252.00 L77.93,251.56 L78.36,251.12 L78.78,250.68 L79.21,250.24 L79.64,249.80 L80.07,249.37 L80.49,248.93 L80.92,248.49 L81.35,248.05 L81.78,247.62 L82.21,247.18 L82.64,246.75 L83.07,246.31 L83.51,245.88 L83.94,245.45 L84.37,245.02 L84.80,244.59 L85.24,244.16 L85.67,243.73 L86.11,243.30 L86.55,242.87 L86.98,242.45 L87.42,242.02 L87.86,241.60 L88.30,241.18 L88.74,240.76 L89.19,240.34 L89.63,239.92 L90.07,239.51 L90.52,239.09 L90.97,238.68 L91.41,238.27 L91.86,237.86 L92.31,237.46 L92.77,237.05 L93.22,236.65 L93.67,236.25 L94.13,235.85 L94.59,235.45 L95.05,235.06 L95.51,234.67 L95.97,234.28 L96.43,233.89 L96.90,233.51 L97.37,233.12 L97.83,232.74 L98.30,232.37 L98.78,231.99 L99.25,231.62 L99.73,231.25 L100.20,230.89 L100.68,230.52 L101.17,230.16 L101.65,229.81 L102.13,229.45 L102.62,229.10 L103.11,228.75 L103.60,228.41 L104.10,228.07 L104.59,227.73 L105.09,227.39 L105.59,227.06 L106.10,226.73 L106.60,226.41 L107.11,226.09 L107.62,225.77 L108.13,225.46 L108.65,225.15 L109.16,224.85 L109.68,224.54 L110.21,224.25 L110.73,223.95 L111.26,223.66 L111.79,223.38 L112.32,223.10 L112.86,222.82 L113.40,222.55 L113.94,222.28 L114.49,222.02 L115.03,221.76 L115.58,221.50 L116.14,221.25 L116.69,221.01 L117.25,220.77 L117.82,220.53 L118.38,220.30 L118.95,220.08 L119.52,219.86 L120.10,219.64 L120.67,219.43 L121.26,219.22 L121.84,219.02 L122.43,218.83 L123.02,218.64 L123.61,218.45 L124.21,218.27 L124.81,218.10 L125.42,217.93 L126.03,217.77 L126.64,217.61 L127.25,217.46 L127.87,217.32 L128.50,217.18 L129.12,217.04 L129.75,216.92 L130.39,216.79 L131.02,216.68 L131.67,216.57 L132.31,216.47 L132.96,216.37 L133.61,216.28 L134.27,216.20" fill="none" stroke="#888" stroke-width="2.4" stroke-linecap="round" stroke-linejoin="round" />
<path d="M37.63,285.53 L38.19,285.29 L38.74,285.04 L39.29,284.79 L39.84,284.54 L40.38,284.28 L40.92,284.01 L41.46,283.74 L41.99,283.47 L42.53,283.19 L43.06,282.91 L43.58,282.63 L44.11,282.34 L44.63,282.04 L45.15,281.75 L45.67,281.44 L46.18,281.14 L46.69,280.83 L47.20,280.52 L47.71,280.20 L48.22,279.88 L48.72,279.55 L49.22,279.23 L49.72,278.90 L50.21,278.56 L50.71,278.22 L51.20,277.88 L51.69,277.54 L52.17,277.19 L52.66,276.84 L53.14,276.48 L53.62,276.12 L54.10,275.76 L54.58,275.40 L55.05,275.03 L55.53,274.67 L56.00,274.29 L56.47,273.92 L56.94,273.54 L57.41,273.16 L57.87,272.78 L58.33,272.39 L58.80,272.01 L59.26,271.62 L59.71,271.23 L60.17,270.83 L60.63,270.44 L61.08,270.04 L61.54,269.64 L61.99,269.23 L62.44,268.83 L62.89,268.42 L63.33,268.01 L63.78,267.60 L64.23,267.19 L64.67,266.78 L65.11,266.36 L65.56,265.95 L66.00,265.53 L66.44,265.11 L66.88,264.69 L67.32,264.26 L67.75,263.84 L68.19,263.41 L68.63,262.99 L69.06,262.56 L69.49,262.13 L69.93,261.70 L70.36,261.27 L70.79,260.84 L71.23,260.41 L71.66,259.97 L72.09,259.54 L72.52,259.10 L72.95,258.67 L73.38,258.23 L73.80,257.79 L74.23,257.36 L74.66,256.92 L75.09,256.48 L75.52,256.04 L75.94,255.61 L76.37,255.17 L76.80,254.73 L77.22,254.29 L77.65,253.85 L78.08,253.41 L78.50,252.97 L78.93,252.53 L79.36,252.10 L79.79,251.66 L80.21,251.22 L80.64,250.78 L81.07,250.34 L81.49,249.91 L81.92,249.47 L82.35,249.04 L82.78,248.60 L83.21,248.17 L83.64,247.73 L84.07,247.30 L84.50,246.87 L84.93,246.44 L85.36,246.01 L85.79,245.58 L86.22,245.15 L86.66,244.73 L87.09,244.30 L87.52,243.88 L87.96,243.45 L88.39,243.03 L88.83,242.61 L89.27,242.19 L89.71,241.77 L90.15,241.36 L90.59,240.94 L91.03,240.53 L91.47,240.12 L91.91,239.71 L92.36,239.31 L92.80,238.90 L93.25,238.50 L93.70,238.10 L94.15,237.70 L94.60,237.30 L95.05,236.91 L95.50,236.51 L95.96,236.12 L96.41,235.74 L96.87,235.35 L97.33,234.97 L97.79,234.59 L98.25,234.21 L98.71,233.83 L99.18,233.46 L99.64,233.09 L100.11,232.73 L100.58,232.36 L101.05,232.00 L101.53,231.64 L102.00,231.29 L102.48,230.93 L102.96,230.58 L103.44,230.24 L103.92,229.90 L104.40,229.56 L104.89,229.22 L105.38,228.89 L105.87,228.56 L106.36,228.23 L106.86,227.91 L107.35,227.59 L107.85,227.28 L108.35,226.97 L108.86,226.66 L109.36,226.35 L109.87,226.05 L110.38,225.76 L110.89,225.47 L111.41,225.18 L111.93,224.89 L112.45,224.61 L112.97,224.34 L113.50,224.07 L114.03,223.80 L114.56,223.54 L115.09,223.28 L115.63,223.03 L116.17,222.78 L116.71,222.53 L117.25,222.29 L117.80,222.06 L118.35,221.83 L118.90,221.60 L119.46,221.38 L120.02,221.16 L120.58,220.95 L121.15,220.75 L121.72,220.55 L122.29,220.35 L122.86,220.16 L123.44,219.97 L124.02,219.79 L124.61,219.62 L125.19,219.45 L125.79,219.28 L126.38,219.12 L126.98,218.97 L127.58,218.82 L128.19,218.68 L128.80,218.55 L129.41,218.41 L130.02,218.29 L130.64,218.17 L131.27,218.06 L131.89,217.95 L132.53,217.85 L133.16,217.76 L133.80,217.67 L134.44,217.58" fill="none" stroke="#000" stroke-width="1.8" stroke-linecap="round" stroke-linejoin="round" />
<path d="M159.25,286.16 L159.81,285.95 L160.36,285.73 L160.90,285.50 L161.45,285.28 L161.99,285.04 L162.53,284.80 L163.06,284.56 L163.60,284.31 L164.12,284.06 L164.65,283.81 L165.18,283.55 L165.70,283.28 L166.22,283.01 L166.73,282.74 L167.25,282.46 L167.76,282.18 L168.27,281.89 L168.77,281.60 L169.28,281.31 L169.78,281.01 L170.28,280.71 L170.77,280.40 L171.27,280.10 L171.76,279.78" fill="none" stroke="#6a6a6a" stroke-width="1.64" stroke-linecap="round" stroke-linejoin="round" />
<path d="M171.76,279.78 L172.25,279.47 L172.74,279.15 L173.23,278.82 L173.71,278.50 L174.19,278.17 L174.67,277.83 L175.15,277.50 L175.62,277.16 L176.10,276.82 L176.57,276.47 L177.04,276.12 L177.51,275.77 L177.98,275.42 L178.44,275.06 L178.91,274.70 L179.37,274.34 L179.83,273.97 L180.29,273.60 L180.74,273.23 L181.20,272.86 L181.65,272.48 L182.11,272.11 L182.56,271.73 L183.01,271.34 L183.46,270.96" fill="none" stroke="#6a6a6a" stroke-width="1.73" stroke-linecap="round" stroke-linejoin="round" />
<path d="M183.46,270.96 L183.90,270.57 L184.35,270.18 L184.79,269.79 L185.24,269.40 L185.68,269.01 L186.12,268.61 L186.56,268.21 L187.00,267.81 L187.44,267.41 L187.88,267.01 L188.32,266.60 L188.75,266.20 L189.19,265.79 L189.62,265.38 L190.05,264.97 L190.49,264.56 L190.92,264.15 L191.35,263.73 L191.78,263.32 L192.21,262.90 L192.64,262.49 L193.07,262.07 L193.50,261.65 L193.93,261.23 L194.36,260.81" fill="none" stroke="#6a6a6a" stroke-width="1.82" stroke-linecap="round" stroke-linejoin="round" />
<path d="M194.36,260.81 L194.78,260.39 L195.21,259.97 L195.64,259.55 L196.06,259.12 L196.49,258.70 L196.92,258.28 L197.34,257.85 L197.77,257.43 L198.20,257.01 L198.62,256.58 L199.05,256.16 L199.47,255.73 L199.90,255.31 L200.33,254.88 L200.75,254.46 L201.18,254.03 L201.61,253.61 L202.04,253.19 L202.46,252.76 L202.89,252.34 L203.32,251.92 L203.75,251.49 L204.18,251.07 L204.61,250.65 L205.04,250.23" fill="none" stroke="#6a6a6a" stroke-width="1.9" stroke-linecap="round" stroke-linejoin="round" />
<path d="M205.04,250.23 L205.47,249.81 L205.90,249.39 L206.33,248.97 L206.76,248.56 L207.20,248.14 L207.63,247.73 L208.07,247.31 L208.50,246.90 L208.94,246.49 L209.38,246.08 L209.82,245.67 L210.25,245.26 L210.69,244.85 L211.14,244.45 L211.58,244.04 L212.02,243.64 L212.47,243.24 L212.91,242.84 L213.36,242.44 L213.81,242.05 L214.26,241.66 L214.71,241.26 L215.16,240.87 L215.61,240.49 L216.06,240.10" fill="none" stroke="#6a6a6a" stroke-width="1.99" stroke-linecap="round" stroke-linejoin="round" />
<path d="M216.06,240.10 L216.52,239.72 L216.98,239.33 L217.44,238.95 L217.90,238.58 L218.36,238.20 L218.82,237.83 L219.29,237.46 L219.75,237.09 L220.22,236.73 L220.69,236.36 L221.17,236.00 L221.64,235.65 L222.11,235.29 L222.59,234.94 L223.07,234.59 L223.55,234.24 L224.04,233.90 L224.52,233.56 L225.01,233.22 L225.50,232.89 L225.99,232.56 L226.48,232.23 L226.98,231.91 L227.48,231.59 L227.98,231.27" fill="none" stroke="#6a6a6a" stroke-width="2.08" stroke-linecap="round" stroke-linejoin="round" />
<path d="M227.98,231.27 L228.48,230.95 L228.98,230.64 L229.49,230.34 L230.00,230.03 L230.51,229.73 L231.03,229.44 L231.55,229.15 L232.07,228.86 L232.59,228.57 L233.11,228.29 L233.64,228.02 L234.17,227.75 L234.70,227.48 L235.24,227.21 L235.78,226.95 L236.32,226.70 L236.86,226.45 L237.41,226.20 L237.96,225.96 L238.51,225.72 L239.07,225.49 L239.63,225.26 L240.19,225.04 L240.75,224.82 L241.32,224.61" fill="none" stroke="#6a6a6a" stroke-width="2.17" stroke-linecap="round" stroke-linejoin="round" />
<path d="M241.32,224.61 L241.89,224.40 L242.47,224.20 L243.04,224.00 L243.62,223.81 L244.21,223.62 L244.80,223.43 L245.39,223.26 L245.98,223.08 L246.58,222.92 L247.18,222.76 L247.78,222.60 L248.39,222.45 L249.00,222.31 L249.62,222.17 L250.23,222.03 L250.86,221.91 L251.48,221.78 L252.11,221.67 L252.74,221.56 L253.38,221.46 L254.02,221.36 L254.66,221.27 L255.31,221.18 L255.96,221.10 L256.61,221.03" fill="none" stroke="#6a6a6a" stroke-width="2.26" stroke-linecap="round" stroke-linejoin="round" />
<path d="M159.40,286.53 L159.95,286.32 L160.51,286.10 L161.06,285.88 L161.61,285.65 L162.15,285.42 L162.69,285.18 L163.23,284.94 L163.77,284.69 L164.30,284.44 L164.84,284.19 L165.37,283.93 L165.89,283.66 L166.42,283.39 L166.94,283.12 L167.46,282.85 L167.97,282.57 L168.49,282.28 L169.00,281.99 L169.51,281.70 L170.01,281.41 L170.52,281.11 L171.02,280.80 L171.52,280.50 L172.02,280.19" fill="none" stroke="#000" stroke-width="1.64" stroke-linecap="round" stroke-linejoin="round" />
<path d="M172.02,280.19 L172.51,279.87 L173.01,279.56 L173.50,279.24 L173.99,278.91 L174.48,278.59 L174.96,278.25 L175.45,277.92 L175.93,277.58 L176.41,277.24 L176.89,276.90 L177.36,276.56 L177.84,276.21 L178.31,275.86 L178.78,275.50 L179.25,275.15 L179.72,274.79 L180.18,274.42 L180.65,274.06 L181.11,273.69 L181.58,273.32 L182.04,272.95 L182.50,272.58 L182.95,272.20 L183.41,271.82 L183.86,271.44" fill="none" stroke="#000" stroke-width="1.71" stroke-linecap="round" stroke-linejoin="round" />
<path d="M183.86,271.44 L184.32,271.06 L184.77,270.67 L185.22,270.29 L185.67,269.90 L186.12,269.51 L186.57,269.12 L187.02,268.72 L187.47,268.33 L187.91,267.93 L188.35,267.53 L188.80,267.13 L189.24,266.73 L189.68,266.33 L190.12,265.92 L190.56,265.52 L191.00,265.11 L191.44,264.70 L191.88,264.29 L192.32,263.88 L192.76,263.47 L193.19,263.06 L193.63,262.65 L194.06,262.24 L194.50,261.82 L194.93,261.41" fill="none" stroke="#000" stroke-width="1.79" stroke-linecap="round" stroke-linejoin="round" />
<path d="M194.93,261.41 L195.37,260.99 L195.80,260.58 L196.24,260.16 L196.67,259.74 L197.10,259.33 L197.54,258.91 L197.97,258.49 L198.40,258.07 L198.83,257.66 L199.27,257.24 L199.70,256.82 L200.13,256.40 L200.56,255.99 L201.00,255.57 L201.43,255.15 L201.86,254.73 L202.30,254.32 L202.73,253.90 L203.16,253.48 L203.60,253.07 L204.03,252.65 L204.47,252.24 L204.90,251.83 L205.34,251.41 L205.77,251.00" fill="none" stroke="#000" stroke-width="1.86" stroke-linecap="round" stroke-linejoin="round" />
<path d="M205.77,251.00 L206.21,250.59 L206.65,250.18 L207.09,249.77 L207.52,249.36 L207.96,248.96 L208.40,248.55 L208.84,248.15 L209.28,247.74 L209.73,247.34 L210.17,246.94 L210.61,246.54 L211.05,246.14 L211.50,245.75 L211.95,245.35 L212.39,244.96 L212.84,244.57 L213.29,244.18 L213.74,243.79 L214.19,243.40 L214.64,243.02 L215.09,242.64 L215.55,242.26 L216.00,241.88 L216.46,241.50 L216.92,241.13" fill="none" stroke="#000" stroke-width="1.94" stroke-linecap="round" stroke-linejoin="round" />
<path d="M216.92,241.13 L217.37,240.76 L217.83,240.39 L218.30,240.02 L218.76,239.66 L219.22,239.29 L219.69,238.93 L220.15,238.58 L220.62,238.22 L221.09,237.87 L221.56,237.52 L222.04,237.18 L222.51,236.83 L222.99,236.49 L223.46,236.16 L223.94,235.82 L224.42,235.49 L224.90,235.16 L225.39,234.84 L225.88,234.52 L226.36,234.20 L226.85,233.88 L227.34,233.57 L227.84,233.26 L228.33,232.96 L228.83,232.66" fill="none" stroke="#000" stroke-width="2.01" stroke-linecap="round" stroke-linejoin="round" />
<path d="M228.83,232.66 L229.33,232.36 L229.83,232.07 L230.33,231.78 L230.84,231.49 L231.35,231.21 L231.85,230.93 L232.37,230.66 L232.88,230.39 L233.40,230.12 L233.91,229.86 L234.43,229.60 L234.96,229.35 L235.48,229.10 L236.01,228.85 L236.54,228.61 L237.07,228.37 L237.61,228.14 L238.14,227.91 L238.68,227.69 L239.23,227.47 L239.77,227.26 L240.32,227.05 L240.87,226.84 L241.42,226.64 L241.98,226.45" fill="none" stroke="#000" stroke-width="2.09" stroke-linecap="round" stroke-linejoin="round" />
<path d="M241.98,226.45 L242.53,226.26 L243.09,226.08 L243.66,225.90 L244.22,225.72 L244.79,225.55 L245.37,225.39 L245.94,225.23 L246.52,225.07 L247.10,224.93 L247.68,224.78 L248.27,224.65 L248.86,224.51 L249.45,224.39 L250.05,224.27 L250.65,224.15 L251.25,224.04 L251.86,223.94 L252.47,223.84 L253.08,223.75 L253.70,223.66 L254.32,223.58 L254.94,223.51 L255.57,223.44 L256.20,223.38 L256.84,223.32" fill="none" stroke="#000" stroke-width="2.16" stroke-linecap="round" stroke-linejoin="round" />
<path d="M281.10,286.20 C281.75,285.92 283.48,284.95 285.00,284.50 C286.52,284.05 288.37,283.70 290.20,283.50 C292.03,283.30 281.25,283.33 296.00,283.30 C310.75,283.27 364.92,283.30 378.70,283.30" fill="none" stroke="#8a8a8a" stroke-width="1.8" stroke-linecap="round" stroke-linejoin="round" stroke-linecap="butt"/>
<path d="M281.39,286.55 L281.93,286.30 L282.46,286.04 L282.99,285.78 L283.52,285.51 L284.05,285.24 L284.57,284.96 L285.09,284.68 L285.61,284.40 L286.13,284.11 L286.64,283.81 L287.16,283.52 L287.67,283.22 L288.17,282.91 L288.68,282.60 L289.18,282.29 L289.68,281.98 L290.18,281.66 L290.68,281.33 L291.18,281.01" fill="none" stroke="#000" stroke-width="1.8" stroke-linecap="round" stroke-linejoin="round" />
<path d="M287.67,283.22 L288.17,282.91 L288.68,282.60 L289.18,282.29 L289.68,281.98 L290.18,281.66 L290.68,281.33 L291.18,281.01 L291.67,280.68 L292.16,280.34 L292.65,280.01 L293.14,279.67 L293.62,279.32 L294.11,278.98 L294.59,278.63 L295.07,278.27 L295.54,277.92 L296.02,277.56 L296.50,277.20 L296.97,276.83 L297.44,276.47 L297.91,276.10 L298.38,275.72 L298.85,275.35 L299.31,274.97 L299.78,274.59 L300.24,274.21 L300.70,273.82 L301.16,273.43 L301.62,273.04 L302.07,272.65 L302.53,272.26 L302.99,271.86 L303.44,271.46 L303.89,271.06 L304.34,270.66 L304.79,270.26 L305.24,269.85 L305.69,269.44 L306.14,269.03 L306.58,268.62 L307.03,268.21 L307.47,267.79 L307.91,267.37 L308.36,266.96 L308.80,266.54 L309.24,266.12 L309.68,265.69 L310.12,265.27 L310.56,264.85 L311.00,264.42 L311.43,264.00 L311.87,263.57 L312.31,263.14 L312.74,262.71 L313.18,262.28 L313.61,261.85 L314.05,261.42 L314.48,260.98 L314.91,260.55 L315.35,260.12 L315.78,259.68 L316.21,259.25 L316.64,258.81 L317.08,258.38 L317.51,257.94 L317.94,257.50 L318.37,257.07 L318.80,256.63 L319.23,256.20 L319.67,255.76 L320.10,255.32 L320.53,254.89 L320.96,254.45 L321.39,254.01 L321.82,253.58 L322.26,253.14 L322.69,252.71 L323.12,252.27 L323.55,251.84 L323.99,251.40 L324.42,250.97 L324.86,250.54 L325.29,250.11 L325.72,249.68 L326.16,249.25 L326.59,248.82 L327.03,248.39 L327.47,247.96 L327.91,247.53 L328.34,247.11 L328.78,246.68 L329.22,246.26 L329.66,245.84 L330.10,245.42 L330.54,245.00 L330.99,244.58 L331.43,244.17 L331.87,243.75 L332.32,243.34 L332.76,242.93 L333.21,242.52 L333.66,242.11 L334.11,241.70 L334.56,241.30 L335.01,240.90 L335.46,240.50 L335.91,240.10 L336.37,239.70 L336.83,239.31 L337.28,238.91 L337.74,238.52 L338.20,238.14 L338.66,237.75 L339.12,237.37 L339.59,236.99 L340.05,236.61 L340.52,236.24 L340.99,235.86 L341.46,235.49 L341.93,235.13 L342.40,234.76 L342.88,234.40 L343.35,234.04 L343.83,233.69 L344.31,233.34 L344.79,232.99 L345.28,232.64 L345.76,232.30 L346.25,231.96 L346.74,231.62 L347.23,231.29 L347.72,230.96 L348.22,230.63 L348.72,230.31 L349.21,229.99 L349.72,229.68 L350.22,229.37 L350.72,229.06 L351.23,228.75 L351.74,228.45 L352.25,228.16 L352.77,227.86 L353.28,227.58 L353.80,227.29 L354.33,227.01 L354.85,226.74 L355.38,226.46 L355.90,226.20 L356.44,225.93 L356.97,225.68 L357.51,225.42 L358.04,225.17 L358.59,224.93 L359.13,224.69 L359.68,224.45 L360.23,224.22 L360.78,223.99 L361.34,223.77 L361.89,223.56 L362.45,223.35 L363.02,223.14 L363.59,222.94 L364.15,222.74 L364.73,222.55 L365.30,222.37 L365.88,222.19 L366.46,222.01 L367.05,221.84 L367.64,221.68 L368.23,221.52 L368.82,221.37 L369.42,221.22 L370.02,221.08 L370.63,220.94 L371.23,220.81 L371.85,220.69 L372.46,220.57 L373.08,220.46 L373.70,220.35 L374.32,220.25 L374.95,220.16 L375.58,220.07 L376.22,219.99 L376.86,219.91 L377.50,219.85 L378.15,219.78 L378.80,219.73" fill="none" stroke="#000" stroke-width="2.9" stroke-linecap="round" stroke-linejoin="round" stroke-linecap="butt"/>
<path d="M407.53,286.58 L408.00,286.30 L408.47,286.01 L408.95,285.72 L409.42,285.43 L409.89,285.15 L410.36,284.86 L410.84,284.57 L411.31,284.29 L411.78,284.00 L412.26,283.72 L412.73,283.43 L413.20,283.15 L413.68,282.87 L414.15,282.58 L414.63,282.30 L415.10,282.02 L415.58,281.74 L416.05,281.45 L416.53,281.17 L417.00,280.89 L417.48,280.61 L417.96,280.33 L418.43,280.05 L418.91,279.77 L419.39,279.49 L419.86,279.21 L420.34,278.94 L420.82,278.66 L421.30,278.38 L421.78,278.10 L422.25,277.83 L422.73,277.55 L423.21,277.27" fill="none" stroke="#808080" stroke-width="1.69" stroke-linecap="round" stroke-linejoin="round" stroke-linecap="butt"/>
<path d="M423.21,277.27 L423.69,277.00 L424.17,276.72 L424.65,276.45 L425.13,276.17 L425.61,275.90 L426.09,275.63 L426.57,275.35 L427.05,275.08 L427.53,274.81 L428.01,274.53 L428.49,274.26 L428.97,273.99 L429.45,273.72 L429.94,273.45 L430.42,273.18 L430.90,272.91 L431.38,272.64 L431.86,272.37 L432.35,272.10 L432.83,271.83 L433.31,271.56 L433.80,271.29 L434.28,271.02 L434.76,270.75 L435.25,270.49 L435.73,270.22 L436.21,269.95 L436.70,269.69 L437.18,269.42 L437.67,269.15 L438.15,268.89 L438.64,268.62 L439.12,268.36" fill="none" stroke="#808080" stroke-width="1.87" stroke-linecap="round" stroke-linejoin="round" stroke-linecap="butt"/>
<path d="M439.12,268.36 L439.61,268.09 L440.09,267.83 L440.58,267.56 L441.06,267.30 L441.55,267.04 L442.04,266.77 L442.52,266.51 L443.01,266.25 L443.50,265.98 L443.98,265.72 L444.47,265.46 L444.96,265.20 L445.44,264.94 L445.93,264.68 L446.42,264.42 L446.91,264.16 L447.39,263.90 L447.88,263.64 L448.37,263.38 L448.86,263.12 L449.35,262.86 L449.84,262.60 L450.32,262.34 L450.81,262.08 L451.30,261.82 L451.79,261.56 L452.28,261.31 L452.77,261.05 L453.26,260.79 L453.75,260.54 L454.24,260.28 L454.73,260.02 L455.22,259.77" fill="none" stroke="#808080" stroke-width="2.06" stroke-linecap="round" stroke-linejoin="round" stroke-linecap="butt"/>
<path d="M455.22,259.77 L455.71,259.51 L456.20,259.25 L456.69,259.00 L457.18,258.74 L457.67,258.49 L458.16,258.23 L458.65,257.98 L459.14,257.73 L459.64,257.47 L460.13,257.22 L460.62,256.96 L461.11,256.71 L461.60,256.46 L462.09,256.20 L462.59,255.95 L463.08,255.70 L463.57,255.45 L464.06,255.19 L464.55,254.94 L465.05,254.69 L465.54,254.44 L466.03,254.19 L466.52,253.94 L467.02,253.69 L467.51,253.43 L468.00,253.18 L468.50,252.93 L468.99,252.68 L469.48,252.43 L469.98,252.18 L470.47,251.93 L470.96,251.68 L471.46,251.44" fill="none" stroke="#808080" stroke-width="2.24" stroke-linecap="round" stroke-linejoin="round" stroke-linecap="butt"/>
<path d="M471.46,251.44 L471.95,251.19 L472.44,250.94 L472.94,250.69 L473.43,250.44 L473.93,250.19 L474.42,249.94 L474.92,249.70 L475.41,249.45 L475.90,249.20 L476.40,248.95 L476.89,248.70 L477.39,248.46 L477.88,248.21 L478.38,247.96 L478.87,247.72 L479.37,247.47 L479.86,247.22 L480.36,246.98 L480.85,246.73 L481.35,246.48 L481.84,246.24 L482.34,245.99 L482.83,245.75 L483.33,245.50 L483.82,245.26 L484.32,245.01 L484.82,244.77 L485.31,244.52 L485.81,244.28 L486.30,244.03 L486.80,243.79 L487.29,243.54 L487.79,243.30" fill="none" stroke="#808080" stroke-width="2.42" stroke-linecap="round" stroke-linejoin="round" stroke-linecap="butt"/>
<path d="M487.79,243.30 L488.29,243.05 L488.78,242.81 L489.28,242.57 L489.77,242.32 L490.27,242.08 L490.77,241.83 L491.26,241.59 L491.76,241.35 L492.26,241.10 L492.75,240.86 L493.25,240.62 L493.74,240.37 L494.24,240.13 L494.74,239.89 L495.23,239.65 L495.73,239.40 L496.23,239.16 L496.72,238.92 L497.22,238.68 L497.72,238.43 L498.21,238.19 L498.71,237.95 L499.21,237.71 L499.70,237.46 L500.20,237.22 L500.70,236.98 L501.19,236.74 L501.69,236.50 L502.19,236.26 L502.68,236.01 L503.18,235.77 L503.68,235.53 L504.17,235.29 L504.67,235.05" fill="none" stroke="#808080" stroke-width="2.61" stroke-linecap="round" stroke-linejoin="round" stroke-linecap="butt"/>
<path d="M407.82,286.73 L408.37,286.37 L408.91,286.01 L409.45,285.64 L409.99,285.27 L410.52,284.89 L411.05,284.51 L411.58,284.12 L412.10,283.73 L412.61,283.33" fill="none" stroke="#000" stroke-width="1.57" stroke-linecap="round" stroke-linejoin="round" />
<path d="M412.61,283.33 L413.13,282.93 L413.64,282.53 L414.14,282.12 L414.64,281.71 L415.14,281.29 L415.64,280.87 L416.13,280.45 L416.62,280.02 L417.10,279.58 L417.58,279.15" fill="none" stroke="#000" stroke-width="1.73" stroke-linecap="round" stroke-linejoin="round" />
<path d="M417.58,279.15 L418.06,278.71 L418.53,278.26 L419.00,277.81 L419.47,277.36 L419.93,276.90 L420.40,276.45 L420.85,275.98 L421.31,275.52 L421.76,275.05 L422.21,274.57" fill="none" stroke="#000" stroke-width="1.89" stroke-linecap="round" stroke-linejoin="round" />
<path d="M422.21,274.57 L422.66,274.10 L423.10,273.62 L423.54,273.13 L423.98,272.65 L424.41,272.16 L424.85,271.67 L425.28,271.17 L425.70,270.67 L426.13,270.17 L426.55,269.67" fill="none" stroke="#000" stroke-width="2.06" stroke-linecap="round" stroke-linejoin="round" />
<path d="M426.55,269.67 L426.97,269.16 L427.39,268.66 L427.81,268.14 L428.22,267.63 L428.63,267.11 L429.04,266.59 L429.45,266.07 L429.85,265.55 L430.25,265.02 L430.66,264.50" fill="none" stroke="#000" stroke-width="2.22" stroke-linecap="round" stroke-linejoin="round" />
<path d="M430.66,264.50 L431.05,263.97 L431.45,263.43 L431.85,262.90 L432.24,262.36 L432.63,261.82 L433.02,261.28 L433.41,260.74 L433.80,260.20 L434.19,259.65 L434.57,259.11" fill="none" stroke="#000" stroke-width="2.39" stroke-linecap="round" stroke-linejoin="round" />
<path d="M434.57,259.11 L434.95,258.56 L435.33,258.01 L435.71,257.46 L436.09,256.90 L436.47,256.35 L436.85,255.79 L437.22,255.24 L437.60,254.68 L437.97,254.12 L438.34,253.56" fill="none" stroke="#000" stroke-width="2.55" stroke-linecap="round" stroke-linejoin="round" />
<path d="M438.34,253.56 L438.72,253.00 L439.09,252.43 L439.46,251.87 L439.83,251.31 L440.19,250.74 L440.56,250.18 L440.93,249.61 L441.30,249.04 L441.66,248.48 L442.03,247.91" fill="none" stroke="#000" stroke-width="2.72" stroke-linecap="round" stroke-linejoin="round" />
<path d="M440.56,250.18 L440.93,249.61 L441.30,249.04 L441.66,248.48 L442.03,247.91 L442.39,247.34 L442.76,246.77 L443.12,246.20 L443.49,245.63 L443.85,245.06 L444.21,244.49 L444.58,243.92 L444.94,243.35 L445.30,242.78 L445.67,242.22 L446.03,241.65 L446.40,241.08 L446.76,240.51 L447.12,239.94 L447.49,239.37 L447.85,238.80 L448.22,238.23 L448.58,237.67 L448.95,237.10 L449.32,236.53 L449.68,235.97 L450.05,235.40 L450.42,234.84 L450.79,234.28 L451.16,233.71 L451.53,233.15 L451.90,232.59 L452.27,232.03 L452.65,231.48 L453.02,230.92 L453.40,230.37 L453.77,229.81 L454.15,229.26 L454.53,228.71 L454.91,228.16 L455.29,227.61 L455.68,227.06 L456.06,226.52 L456.45,225.98 L456.83,225.43 L457.22,224.89 L457.61,224.36 L458.00,223.82 L458.40,223.29 L458.79,222.76 L459.19,222.23 L459.59,221.70 L459.99,221.17 L460.39,220.65 L460.80,220.13 L461.20,219.61 L461.61,219.10 L462.02,218.58 L462.44,218.07 L462.85,217.56 L463.27,217.06 L463.69,216.56 L464.11,216.06 L464.54,215.56 L464.97,215.07 L465.40,214.57 L465.83,214.09 L466.26,213.60 L466.70,213.12 L467.14,212.64 L467.59,212.17 L468.03,211.69 L468.48,211.23 L468.93,210.76 L469.39,210.30 L469.85,209.84 L470.31,209.39 L470.77,208.93 L471.24,208.49 L471.71,208.04 L472.18,207.60 L472.66,207.17 L473.14,206.74 L473.63,206.31 L474.11,205.88 L474.60,205.46 L475.10,205.05 L475.60,204.64 L476.10,204.23 L476.60,203.83 L477.11,203.43 L477.63,203.03 L478.14,202.64 L478.66,202.26 L479.19,201.88 L479.72,201.50 L480.25,201.13 L480.79,200.77 L481.33,200.41 L481.87,200.05 L482.42,199.70 L482.98,199.35 L483.53,199.01 L484.10,198.67 L484.66,198.34 L485.23,198.02 L485.81,197.70 L486.39,197.38 L486.98,197.07 L487.57,196.77 L488.16,196.47 L488.76,196.17 L489.37,195.89 L489.97,195.60 L490.59,195.33 L491.21,195.06 L491.83,194.79 L492.46,194.54 L493.10,194.28 L493.74,194.04 L494.38,193.80 L495.03,193.56 L495.69,193.33 L496.35,193.11 L497.01,192.90" fill="none" stroke="#000" stroke-width="2.8" stroke-linecap="round" stroke-linejoin="round" stroke-linecap="butt"/>
<rect x="0.5" y="0.5" width="519" height="325" fill="none" stroke="#000" stroke-width="1"/>
<line x1="0" y1="1.5" x2="520" y2="1.5" stroke="#000" stroke-opacity="0.35" stroke-width="1"/>
<line x1="1.5" y1="0" x2="1.5" y2="326" stroke="#000" stroke-opacity="0.35" stroke-width="1"/>
<line x1="518.5" y1="0" x2="518.5" y2="326" stroke="#000" stroke-opacity="0.5" stroke-width="1"/>
<line x1="0" y1="324.5" x2="520" y2="324.5" stroke="#000" stroke-opacity="0.5" stroke-width="1"/>
</svg></div></body></html>
